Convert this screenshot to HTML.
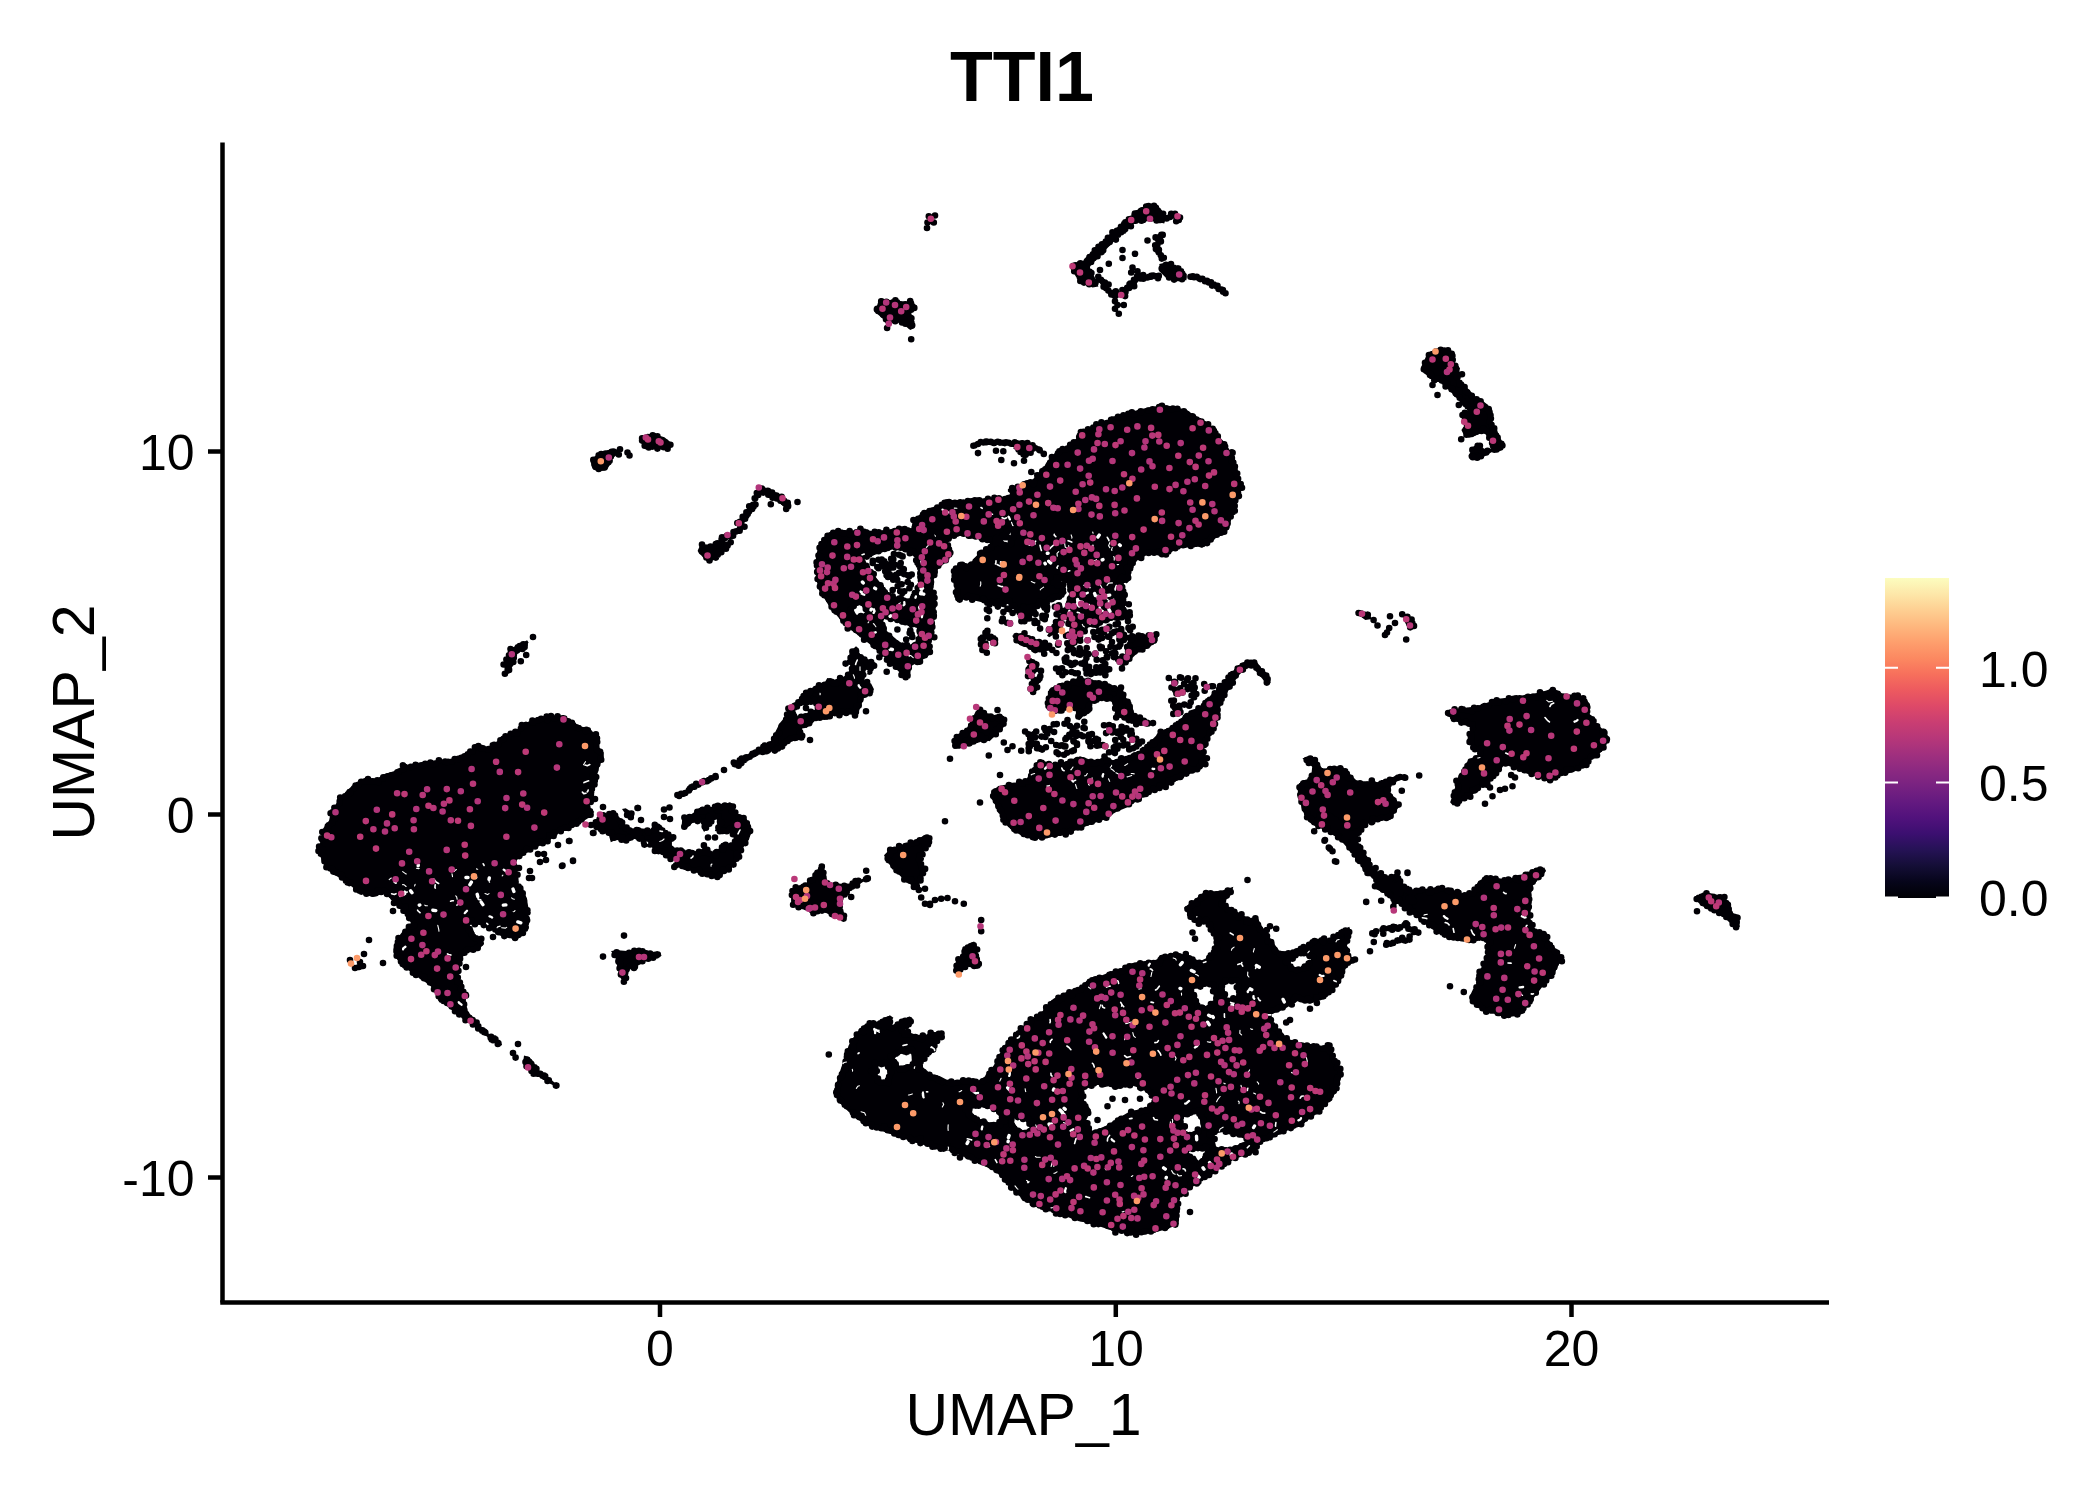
<!DOCTYPE html>
<html><head><meta charset="utf-8"><title>TTI1</title>
<style>
html,body{margin:0;padding:0;background:#fff;}
svg{display:block}
text{font-family:"Liberation Sans",sans-serif;fill:#000}
</style></head><body>
<svg width="2100" height="1500" viewBox="0 0 2100 1500">
<defs>
<linearGradient id="mg" x1="0" y1="1" x2="0" y2="0">
<stop offset="0" stop-color="#000004"/><stop offset="0.05" stop-color="#06051A"/><stop offset="0.10" stop-color="#140E36"/><stop offset="0.15" stop-color="#251255"/><stop offset="0.20" stop-color="#3B0F70"/><stop offset="0.25" stop-color="#51127C"/><stop offset="0.30" stop-color="#641A80"/><stop offset="0.35" stop-color="#782281"/><stop offset="0.40" stop-color="#8C2981"/><stop offset="0.45" stop-color="#A1307E"/><stop offset="0.50" stop-color="#B73779"/><stop offset="0.55" stop-color="#CA3E72"/><stop offset="0.60" stop-color="#DE4968"/><stop offset="0.65" stop-color="#ED5A5F"/><stop offset="0.70" stop-color="#F7705C"/><stop offset="0.75" stop-color="#FC8961"/><stop offset="0.80" stop-color="#FE9F6D"/><stop offset="0.85" stop-color="#FEB77E"/><stop offset="0.90" stop-color="#FECF92"/><stop offset="0.95" stop-color="#FDE7A9"/><stop offset="1" stop-color="#FCFDBF"/>
</linearGradient>
</defs>
<rect width="2100" height="1500" fill="#fff"/>
<path fill="#010005" fill-rule="evenodd" d="M887.7 326.6L891.6 321.7L892.6 321.3L903 323.9L910.2 329.9L914.7 328.1L912.6 322.7L911.3 312.4L917.1 306.2L913.2 302.4L889.9 299.9L880.5 298.3L878.6 300.6L875.1 312.1L883.4 319.2ZM659.7 447.6L667.4 448.8L672.2 446.8L670.3 442L664.4 437.3L657.2 434.9L647.6 433.7L641.2 435.9L641.2 443.3L645.6 447.7L652.5 450ZM1018.1 451.1L1022 456.3L1026.4 457.4L1035.8 449.5L1036.8 449.7L1040.5 453.5L1043.1 453.5L1042.2 449.9L1038 445.7L1029.2 443.2L1014.3 443.8L1013.4 448.7ZM610.1 464.5L612.7 455.7L619.8 450.8L619.2 448.9L612.8 449.9L596.8 454.8L592.3 458.2L591.2 462.5L592.3 468L597.8 471.3L606.8 470.1ZM758.7 486.8L757.7 488.8L758.5 490.5L775.6 499.5L785.4 508.2L788.2 508.7L790.7 507.1L791.3 505L790.4 502.6L779.3 494L768.3 489.1L760.4 486.5ZM1056.4 580.8L1056.3 579.4L1057.5 578.8L1068.8 583.1L1069.2 593.5L1065.2 604.3L1063.8 612.4L1059.7 620.5L1051.6 628.8L1047 635.7L1049.3 637.2L1056.6 632.4L1061.7 627.2L1067.1 619.2L1073.5 613.5L1079.9 620L1075.8 628.5L1073.4 635.5L1079.7 639.7L1088.7 627L1097 624.2L1118 618.9L1124.2 611.5L1125.5 603.9L1125.5 590.9L1120.2 579.7L1120.8 578.9L1121.9 578.9L1126.7 583.6L1130.8 579.5L1130.8 571.8L1135.3 557.7L1141.1 558.7L1146.6 554.8L1154.8 554.8L1161.2 556.1L1170.1 552.3L1178.6 546.8L1185.3 548.1L1194.7 545.5L1202.2 547.9L1204.7 544.3L1225.8 532.4L1229.5 527.5L1230.9 519.6L1234.8 512.9L1236.2 501.1L1240.2 491.6L1241.4 485.4L1238.8 476.3L1237.5 468.3L1234.8 460.3L1233.6 452.8L1228.4 450.1L1225.6 443.3L1220.4 438.1L1216.4 431.4L1211.2 426.3L1186.2 409.8L1166.6 405.2L1157.5 405.9L1146.9 407.8L1120.3 414.5L1112.5 417.1L1105.7 421.1L1097.8 423.1L1092.5 426.4L1084.6 429L1079.6 434.1L1075.4 439.6L1062 449L1056.7 450.4L1052.8 455.5L1047.6 460.7L1043.6 467.4L1038.2 472.8L1032.8 479.6L1027.1 482.4L1020.4 483.8L1015 486.5L1007.9 488.9L1007.9 491.4L1011.8 494.2L1012.1 496.8L1011.4 497.8L1007.3 496.2L965.1 499.9L952.7 499.9L935.5 506.1L920.7 513.5L913.5 520.6L911.3 527.3L912.2 529.3L911.2 530.2L902.6 526.6L884.1 530.5L873.3 531.2L862.6 529.2L853.4 530.5L844.1 529.9L833.7 531.8L827.4 534.3L821 542L817.2 551L815.2 562.7L815.9 577.2L818.5 588.9L829 605.9L842.2 621.9L848.8 628.4L863.4 639.1L878.1 651.1L904.6 677.6L907.6 678.6L910.2 675.5L911.1 665.9L926 657.7L932 652.8L930.8 643.9L933.5 635.8L933.5 626.5L936.1 605.3L934.8 594.9L932.1 586.5L934.9 575.6L939 567.4L947.1 561.8L952.1 554.4L950.9 547.2L946.6 541.5L947.8 540.2L950.5 541.4L950.1 537.5L950.6 536.5L965.3 533.8L968.2 538.8L980.3 538.8L989.9 543.6L990.5 544.5L990 545.7L983.4 549L975.6 556.8L970 565L969.1 565.2L961.5 562.7L954.4 567.4L951.9 577.3L954.5 585.2L954.5 595.7L957.9 601.3L966.8 598.8L996 605.4L1006.9 602.8L1014.1 609.7L1020.1 613.4L1035.5 608.2L1043.6 602.9L1053 601.5L1062 597.7L1066.7 593L1064.3 584.8ZM1012.2 531.3L1013.3 531.5L1013.8 532.6L1010.1 542.3L998.3 543.5L997.3 543L997.4 541.3L1004.4 539ZM937.9 535.2L937.9 536.6L936.9 537.1L929.1 536.2L928.1 535L929.1 533.8L935 533.8ZM864.2 560.3L864.8 558.9L874.3 554.9L886.3 550.9L895.7 548.8L908.7 552.3L917 559.4L919.9 570.5L918.5 581.6L914.3 592.6L908.1 599.9L899.7 597.2L891.4 595.7L876.4 578ZM886.9 631.1L882.8 620.3L883.7 618.8L908.4 624.2L917.9 628.3L918.5 629.2L917 640.7L906.7 646.5L896.6 639.6ZM858.9 617.2L857.7 616.7L852.1 607.9L852.8 606.9L860.1 604.1L861 604.7L865.2 612.2ZM730.5 543.3L720.1 541.2L710.2 544.9L700.7 543.8L697.6 551L703.3 557.8L710.1 561.2L716.9 559L726.6 549.2ZM516.4 654.6L524.1 649.1L528.6 642.5L527.1 640.3L513.1 647.3L508.5 650.7L503.7 665L505.8 673.3L509.2 671.6L513.9 664.5ZM750.1 757.6L758.4 753.5L769.1 752.2L774.2 750.9L782 745.7L790.1 741.6L798.1 740.2L803.9 734.4L801.5 728.3L801.8 727.2L802.8 726.8L806.4 728L811.2 724.4L816.9 718.9L825.1 720.1L835.7 714.8L841.2 716.1L846.6 713.5L856.7 715.9L858.9 711.5L864.3 696.7L871.2 693.7L874 689.3L871.1 683.6L864.8 681.1L864.1 679.9L865.7 674L872.4 671.1L875.8 663.1L872.8 661.1L857.9 655.6L857.5 654.5L858.7 648.5L856 646.2L851.8 650L850.4 656.4L847 663.3L849.8 664.2L850.5 665L849.2 671L844.8 676.2L833.4 679.9L827.3 678.1L823.3 685L809.9 688.4L802.3 694.1L799.4 700.9L792.6 703.1L787.8 707.3L786.4 715.2L779.7 723.3L775.8 731.1L772.8 739.5L764.7 746.3L753.9 751.7L732.7 764.6L733 766.4L735.9 767.4L742 764.3ZM813.3 702.8L814.5 703.7L815.9 709.2L815.5 710.2L807.1 713.1L799.1 717.1L797.8 716.8L794.8 709.7L795.2 708.5L803.6 704.2ZM979.7 738.8L989.6 741.2L1003.9 726.9L1006.1 718L999.8 713.8L989.6 716.1L979.9 708.9L975.9 710.9L966 730.7L955.8 735.9L952.5 740.3L953.6 748.8L959.7 748.8ZM622 808.9L624.9 813.2L630.4 818.7L633.7 818L632.9 812.7L625.7 808.3ZM670.9 844.5L671 843.3L674.5 838.9L672.1 834.9L665.2 830.9L661.2 825L656.3 823.4L650.2 829.2L640 828.2L631.7 829.2L623.2 822.9L619.1 816.8L611.8 811.4L603.5 815.1L593.4 820.6L595.1 827.3L600.6 831L608.9 835.2L610.8 842.3L616 839.8L625.9 841.8L633.9 838.8L640.4 840.9L644.5 847.4L650.5 844.9L654.8 851.9L660.4 852.9L668.5 856.9L673.1 861.4L673.9 855.5L674.7 854.8L675.7 855L676.2 856L675.3 866.1L695.4 871.9L710.3 877.3L717.6 877.8L731.1 868.2L741.9 852.5L743.9 843.5L749 839.3L751.8 830.9L750.4 824.5L746.2 818.9L743.5 817.1L738.1 815.8L734.9 809.5L733 803.9L729.9 802.3L724.2 804.2L716.3 804.7L710.4 807.6L702.3 809.2L694.6 812.1L688.6 816.1L682.2 818.8L681.7 825.6L684.3 828.9L689.3 826L693.5 821.9L701.4 821.9L702.2 822.8L702.7 829.6L704.1 831.9L709.9 825.4L712.1 818.2L713.1 817.8L716.4 818.9L717.2 819.9L717.2 826.1L714.8 831.1L724 832.8L730.4 831.9L736.1 837.4L735.9 838.8L730.7 844L724.4 842.4L720.9 846.8L714.3 852.2L707.4 850L704 846.7L700.6 850L694 853.2L689.9 849.2L686.1 852.2L680 849.8L677.9 850.3ZM917 888.4L921.4 879.5L924.9 870.1L921.3 862.6L923.9 852.1L931.3 842.1L931.3 837.2L924 835.1L918 839.9L890.6 848.5L884 855.2L887.3 861.8L893.4 869.2L903.3 879.1L913.1 886.5ZM482.5 924.9L490.6 929L498.5 934.9L515.9 939.7L521.2 937.1L526.8 929.5L528.8 910L526.8 898.3L523 888.7L516.8 882.3L518.7 874.1L514.8 866L517 859.4L525.4 853L549.3 841L557.4 833L569.5 828.9L577.4 825L589.2 817.1L594.3 812L589.1 806.8L588.8 805.8L592.8 797.6L594.8 783.7L599.9 764.6L603.8 757.7L603.8 752.5L597.9 746.4L598.7 738.4L589.4 728.1L577.5 726.1L572.3 722.9L566.4 717.1L556 715.2L544.2 717.2L532.4 720.1L522.7 724L516.7 730L506.6 734L500.7 739L488.3 747.1L478.3 745.3L466.5 753.1L450.3 759.2L426.2 761.2L414.3 764.2L402.4 766.1L394.5 771.1L384.5 774.1L376.3 779.2L366.2 777.3L358.6 781L350.8 786.9L342.9 794.8L331.1 810.5L329.1 820.4L323.1 828.5L318.3 851.8L325 867.3L334.7 875L344.7 881.1L354.7 889L364.4 894.9L373.9 896.8L384.6 892.9L407 915.4L411.1 923.5L411.1 924.5L402.9 930.9L400 934.7L395.1 942.5L393.3 949L396.1 957.4L400.9 964.2L410.7 972L430.8 986.1L435 993.3L442.8 1003.1L496.6 1043.9L501.4 1045.5L502.1 1044.3L491.2 1035.9L479.2 1024.9L468 1011.7L464.8 1002L467.1 996L464.9 990.5L459.2 980.2L458.8 971.9L461.2 959.8L465 953.3L479.4 948.9L484.1 943.8L481.1 938.8L475.1 934.8L473 928.9L469.3 926.9L468.9 925.6L470 924.8ZM805.6 908.9L812.7 914.9L822.7 911.3L833 916.4L842.3 919.9L846 917.1L841.3 907.6L844 896.8L851.8 889.1L870 877.5L867.7 877.5L855.4 881.1L842.7 886.2L829.8 883.7L828.9 883L823.8 872.8L824.8 864.4L820.8 866L815.9 873.3L805.8 883.4L791.2 888.4L791.2 906.5ZM955 971.7L959.7 973.6L967.1 966.4L977.1 968.7L981.1 964.7L974.2 941.5L968.4 943.5L963.5 953.1L956.2 960.5ZM619.2 965.8L619.2 975.5L624 980.3L626.9 977.4L629.4 969L637.5 965.9L645.6 960.9L661.8 955.5L657.6 951.3L649.9 952.2L638 949.2L630 951.2L618 950.2L611 951L615.1 957.5ZM548.6 1083L555.8 1086.5L557.3 1085.1L549.3 1078L541.2 1072.9L529.3 1057L524 1055.5L523.2 1061.9L525 1068.2L536.7 1075ZM1155.1 221.3L1164.2 223.6L1166.2 217.6L1161.6 209.7L1152.3 205L1140.5 207.4L1131.5 214.1L1132.3 215.6L1114.8 229.3L1084.1 259.1L1082.7 261.9L1077.9 261.3L1071.3 266.7L1072.4 270.8L1076 276.8L1083.2 284L1092.6 287.5L1098.4 286.5L1096.4 280.5L1089.4 266.9L1120 234.9L1135.7 222.4L1145 221.3ZM1186.8 274L1178.1 267L1167.4 262.3L1159.3 264L1160.1 272L1165.6 277.4L1176.4 279.8L1186.4 280.2ZM1453.9 363.1L1455 353.6L1447.2 348.7L1435.3 349.2L1427.2 353.4L1421.3 367.5L1423.5 373L1430.6 377.7L1437.9 381.4L1441.2 382.3L1466.7 407.9L1467.4 410.4L1463.8 416.4L1466.2 422.7L1461.4 430.1L1463.4 434L1470.1 436.3L1473.4 436.1L1477.1 435.1L1483.4 432L1484.8 432.6L1492 446.5L1491.9 447.7L1490.3 448.7L1482.9 449.9L1482 449.4L1479.4 444.4L1473.8 446L1468.5 455.9L1472.8 459.2L1482.6 457.6L1490.9 452.6L1495.6 451L1498.6 451.3L1500.7 450.6L1503.4 447.7L1503.7 444.4L1491.6 420.2L1493.2 414.9L1491.4 408.2L1482 399.9L1477 398.8L1475.1 396.1L1464.1 385L1457.2 377.1L1457.1 375.6L1458.9 374.3L1460 368ZM1369.2 613.5L1360 611.2L1355.4 612.8L1365.3 620L1371.9 619ZM1407 615L1402.7 615L1403.6 619.6L1407.3 626.9L1410.1 630.7L1414.8 626L1412.7 620.7ZM1020 633.7L1012 635.7L1018.3 644L1030.4 648.9L1042.5 652.5L1051 649.3L1049.1 643.4ZM1127.8 643.1L1124.1 648.1L1126.5 653.4L1122.5 660.4L1121.3 666.3L1122.7 667.6L1137.9 652.4L1144.6 648.3L1151.4 642.9L1157.5 641.1L1158.1 635.1L1155.6 632.6L1146.8 634.5L1136.2 634.5L1127.9 636.9ZM1045.9 703.9L1048.9 711L1056 713.4L1063.7 710.8L1075.2 708.3L1075.9 709.2L1075.9 714.4L1079 720.6L1089.6 710L1092.7 703L1102.5 700.1L1110.9 701.5L1111.7 702.1L1114.5 709L1115.7 716.4L1146.6 726.7L1152.4 723.8L1148.7 721L1133.8 712.8L1132.2 704.6L1127.1 699.4L1124.3 694L1119.3 687.7L1101 681.2L1090.4 679.8L1080 677.2L1072.5 679.8L1064.4 683.8L1053.9 686.4L1047.9 691.2L1047.8 697.6ZM1470.4 726.4L1471.2 727.8L1468.7 735L1471.1 744.4L1478.4 753L1478.7 754L1478.1 754.8L1470.8 758.4L1463.5 768.2L1456.2 780.4L1454.9 790.3L1450.1 802.3L1452.9 805.6L1460 802.7L1470.5 796.5L1481.7 786.6L1491.7 779.1L1499.1 771.7L1504.7 764.3L1530.4 775.1L1552.3 781.2L1562.1 775.1L1574.6 771.4L1586.7 765.3L1591.7 759.1L1601.6 751.7L1606.4 744.5L1608.7 736.5L1601.6 728.3L1594.1 720.8L1589 713.2L1590 704.1L1584.3 697.3L1574.8 694.9L1562.2 693.6L1554.7 688.8L1547.8 689.9L1540.2 692.4L1510.2 697.4L1497.8 698.7L1485.3 703.7L1470.3 707.4L1455.2 708.7L1446.6 710.8L1448.5 715.5L1460.5 723.9ZM1235.2 668.5L1224.2 681L1212 696.8L1205.7 698.6L1200.7 705.9L1190.6 711L1180.8 718.4L1173.2 726L1160.7 731L1140.8 750.9L1130.5 756.1L1115 761.2L1105 756.3L1095 761.2L1080 756.3L1067.8 761.2L1055.1 763.7L1038 761.3L1031 770.6L1025.6 781L998.1 786.1L990.2 795.2L1003.5 821.8L1010.8 829.1L1020.5 835.1L1032.7 838.8L1042.4 838.8L1067.2 833.8L1104.5 818.9L1117 811.4L1129.4 806.5L1141.9 796.4L1167 786.4L1179.5 778.9L1189.6 773.9L1201.7 769L1207.4 759.9L1203.8 749.7L1213.9 729.5L1218.8 717.3L1218.9 706.9L1231.1 686.1L1240 673.9L1248.4 667.3L1253.1 667.4L1266.6 684L1269 684.5L1270.7 682.8L1270.4 680.6L1257.3 662.6L1256.1 661.7L1246.5 660.6ZM1312.2 766.8L1311 778.2L1300.8 781L1297.5 787.7L1298.7 799.7L1303.6 812L1308.4 821.7L1315.4 826.3L1321.6 827.1L1340.6 840.2L1356.3 858L1367.1 872.4L1377.5 883L1374 886.4L1375.8 889.1L1385.6 894L1393.4 901.7L1393.7 902.7L1392.2 908.6L1396.7 904.1L1398.1 903.9L1405.7 909L1435.6 931.5L1445.4 936.4L1465.1 941.3L1474.9 941.3L1484.7 938.8L1485.8 939.1L1487.4 950.3L1483.6 962.9L1478.6 972.9L1476.1 985.4L1470.1 995.1L1473.5 1004.2L1480.6 1009L1490.3 1013.8L1500.1 1013.8L1510 1016.3L1519.4 1013.9L1529.1 1004.2L1544.2 984.2L1554 974.3L1559 964.3L1564.5 957.7L1559.1 953.3L1544.2 933.4L1534.1 928.3L1530.1 917.7L1531.3 902.5L1531.4 887.2L1546.1 871.1L1544.3 867.6L1537.9 868.7L1527.8 873.7L1517.9 874.9L1505.2 881.2L1494.8 877.5L1485.3 877.5L1478.4 880.9L1473.2 891L1462.7 893.7L1449.7 888.7L1437.5 887.5L1425.2 888.7L1414.5 891.1L1401.6 883.3L1399.1 873.8L1390.4 874.9L1385.4 877.4L1373 867.5L1353.9 836.3L1359.3 836.3L1361.5 831.8L1366.9 824L1387 818.9L1394.1 814.1L1398.7 807.3L1396.4 798.2L1389.2 793.4L1388.9 792.1L1391.8 784.1L1402 778.9L1405.9 777.6L1396.4 775L1390.5 778.6L1380.2 782.4L1367.4 781.2L1357.3 781.2L1342.1 766.3L1322.3 768.7L1316.6 759.6L1312.2 756.3L1302.4 758.2ZM1720.5 913.9L1735.3 928.1L1739.9 926.7L1738.9 920.5L1731.4 910.5L1729 900.8L1714.7 893.7L1702.8 892.5L1695.3 897.9L1697.2 901.7L1703.1 906.4L1710.5 908.9ZM1234.6 1158.9L1256.6 1151.6L1259.4 1144L1284.5 1131.4L1299.4 1126.4L1319.2 1111.6L1329.1 1101.7L1336.4 1091.9L1341.3 1077.4L1338.9 1065.4L1333.8 1055.3L1331.6 1044.1L1324.9 1046.2L1292 1041.1L1281.8 1033.5L1274.1 1025.8L1271.3 1014.8L1272.1 1013.9L1284.5 1008.9L1297.2 1001.3L1309.9 1003.8L1324.4 999L1334.1 989.2L1341.4 979.4L1346.5 966.8L1353.5 959.8L1348.9 952.9L1346.3 942.7L1351.2 932.4L1349.3 926.7L1340.6 931L1330.4 938.6L1315.4 938.7L1305.4 946.1L1290.3 951.2L1279.3 951L1261.5 925.6L1256.9 916.5L1249.6 918.6L1234.4 911L1224 903.2L1224.1 901.7L1231.4 894.4L1233.3 886.8L1220.1 891.2L1205.4 891.2L1184.1 907.8L1190.8 919L1205.9 924.2L1216.1 939.4L1210.7 955.9L1199.9 961.2L1184.8 953.7L1178.5 954.8L1170.2 953.7L1155.2 959.9L1142.7 961.2L1130.5 963.6L1122.9 968.6L1112.9 971.1L1090.6 979.8L1080.5 987.3L1070.4 989.9L1058.1 996L1050.9 1000.9L1045.9 1008.3L1038.3 1014.7L1030.7 1018.5L1006 1043.2L1001 1053.1L993.5 1065.7L985.9 1075.8L978.1 1081.1L965 1078.7L949.8 1081.2L939.6 1076.1L929.3 1073.5L921.6 1065.8L921.4 1064.7L926.7 1056.7L934 1051.7L936.5 1044.4L942.5 1037.1L942.5 1032.5L935.1 1032.5L919.6 1036.1L903.9 1030.5L904.2 1029.1L913.4 1022.2L909.6 1016.5L890 1026.2L889 1025.7L888.9 1024.5L893.4 1017.8L889.9 1015.2L880.4 1021.1L865.6 1023.6L856 1033.2L848.6 1045.5L838.6 1075.4L833.8 1092.4L838.5 1101.8L848.3 1111.6L860.7 1121.5L875.5 1128.9L935.3 1148.8L950.3 1151.3L965.5 1156.4L995.6 1171.5L1005.8 1181.7L1013.4 1191.6L1023.2 1199L1035.5 1206.4L1080.3 1221.3L1095.4 1225.1L1110.3 1230.1L1127.7 1233.8L1140 1235L1154.7 1232.6L1167.1 1228.9L1178.8 1224.2L1179.1 1198L1184.2 1194.1L1189.3 1189ZM1302.6 953.8L1310.8 959.1L1310.9 960.8L1297.7 968.7L1289 963.2L1289.3 961.5ZM1217 1148.6L1211.3 1135.3L1212.1 1133.9L1227.6 1131.3L1228.6 1131.9L1229 1134.1L1230.4 1133.9L1245.4 1138.9L1246.2 1139.7L1245.6 1141L1230.3 1148.7L1226.3 1147ZM1235.4 981.4L1236.2 982.3L1238.6 995.5L1237.8 996.2L1227 998.6L1226.3 997.7L1223.9 984.5ZM1193.8 989.8L1194.8 988.8L1207.3 986.3L1210.6 986.4L1216.1 1000.5L1205.4 1006.1L1204.3 1006L1203.2 1004.7L1199.5 1006.1L1195.4 994.9L1193.9 992.8L1194.3 991.6ZM1205.5 1148.9L1206.1 1150.4L1200.3 1161.2L1199.3 1161L1188.8 1152.8L1189.7 1151.3ZM1197.8 1111.3L1198.7 1112.3L1201.1 1128L1187.9 1133.6L1186.9 1133.6L1181.4 1117ZM1086.3 1119.8L1091.1 1110.1L1083.9 1100.4L1083.9 1089.6L1099.6 1083.9L1117.5 1088.7L1130.3 1085.1L1143.2 1089L1153.6 1099.7L1153.3 1100.8L1145.5 1108.6L1130.4 1111.1L1105.5 1126.1L1092.8 1131.2L1091.5 1130.6ZM1023.3 1119.2L1030.9 1126.7L1031.2 1127.8L1030.3 1128.7L1019.6 1131.1L1011.5 1118.1L1011.4 1117.1L1012.7 1116.3ZM989.6 1123.6L979.3 1118.5L969.2 1110.9L969 1109.3L985.1 1106.3L995.6 1111.5L1001 1119.3L1001.1 1120.5L1000.3 1121.2ZM912.3 1063L911.5 1063.7L899.6 1066.1L894 1056.8L893.9 1055.8L894.8 1055.1L910.4 1052.6L911.2 1053.6ZM885.5 1065.2L886.2 1066L888.6 1079.1L887.8 1079.9L879.6 1081.1L878.8 1080.2L876.4 1067.1L877.3 1066.3Z"/>
<g fill="none" stroke-linecap="round" stroke-width="6.6">
<path stroke="#010005" d="M478.3 1026.2h0M476.1 1023.9h0M476.6 1022.6h0M472.6 1020.1h0M469.3 1017.7h0M466.1 1014h0M464.2 1009.5h0M463.7 1010.4h0M464.1 1004.4h0M462.7 1001.8h0M462.7 998.8h0M466 995.4h0M465.7 994.8h0M463.3 991.8h0M460.8 988.9h0M461.3 986.7h0M459.9 982.5h0M457.4 981.8h0M457.8 977.5h0M458.4 970.9h0M456.5 969.8h0M456.9 966.9h0M459.4 963.5h0M459.8 957.7h0M460.1 958.7h0M461.9 953.3h0M464.5 952.7h0M466.5 950.4h0M468.1 949.6h0M473.2 949.7h0M477.1 947.2h0M477.7 947.9h0M480.5 943h0M479.5 939.8h0M481.3 938.7h0M476 938.4h0M473.2 936.9h0M471.4 934.1h0M469.1 930.2h0M469.6 929.1h0M466 925.6h0M467.3 923.4h0M471.7 920.6h0M474.7 923.6h0M474.9 924.2h0M482.2 922.4h0M483.8 925.1h0M486.4 923.6h0M489.2 928.2h0M493.6 927.7h0M495.3 929.5h0M499.6 931.3h0M498.2 932.1h0M501.6 932.4h0M504.3 936.1h0M509.5 934.9h0M514.8 936.9h0M515.1 937.9h0M518 934.9h0M522.9 932.9h0M523.3 930.2h0M525.7 927.3h0M525 928.8h0M525.9 923h0M527.1 920.3h0M526.7 918.7h0M527.5 912.4h0M525.1 910.6h0M527.4 910.4h0M524 900.4h0M523.9 901h0M521.9 893.9h0M522.7 893.2h0M520.3 888.4h0M518.6 886.5h0M517.4 886.6h0M514.2 882.2h0M515.3 879.2h0M515.6 882.1h0M517.5 874.7h0M514 872.3h0M514.4 870.5h0M514.1 865.8h0M512.5 861.3h0M513.4 860.3h0M515.1 857h0M519.3 856.1h0M520 854.3h0M523.2 852.7h0M526.5 849.6h0M526.8 849h0M530.2 849.5h0M535.1 846.4h0M535.2 844.4h0M540.9 841.6h0M542.7 843.3h0M547.6 841.3h0M549.3 835.4h0M553.6 836h0M554.3 833.4h0M554.9 832.3h0M560.1 830h0M560.8 831.3h0M565.1 827.8h0M568.5 828h0M571.7 825h0M572.5 823.8h0M578.2 821.7h0M576.5 823.7h0M581.6 819.4h0M584.4 816.6h0M590.6 814.8h0M587.3 815.1h0M589.9 813.5h0M590 811.2h0M587.4 807.8h0M586.6 802.3h0M590.7 801.9h0M589.8 796.3h0M590.9 794.6h0M591.1 792.3h0M591.9 789h0M593.4 784.2h0M593.2 781.1h0M594.8 780.8h0M592.9 775.6h0M596.2 777.1h0M595.3 769.8h0M597.3 764.2h0M597 764.2h0M601.2 759.8h0M600.5 758.5h0M600.1 751.9h0M599.4 751.5h0M597.2 750h0M596.3 746.3h0M596.2 742.5h0M597.2 742.1h0M597 738.2h0M594.2 736.2h0M595.9 734.3h0M587.8 730.4h0M585.8 730.9h0M586.4 729.9h0M578.6 728h0M576.4 727.2h0M573.1 725.1h0M571.9 722.7h0M568.1 721.4h0M565.9 721.9h0M564.2 718.5h0M562.6 718.2h0M557.6 716.4h0M554.5 718.8h0M551 716.1h0M546.7 716.5h0M547.4 720.1h0M541.1 718.9h0M539.5 719.7h0M538.1 720.1h0M532.4 720.6h0M533 722.7h0M526.2 725.1h0M525.7 725h0M521.8 725.1h0M520.9 728.6h0M517 733.6h0M515.4 731.8h0M510.7 733.8h0M508.6 736.7h0M505.5 736.3h0M503.5 738.9h0M500.4 740.3h0M498.1 744.8h0M494.1 744.9h0M492.8 745.4h0M488.2 749.7h0M488.6 749.1h0M482.9 748.3h0M480.8 747.9h0M478.4 746.1h0M474.9 747.3h0M472.4 751.6h0M470.3 751.6h0M467.8 754.4h0M464.6 756.3h0M461.4 757.7h0M458.4 758.9h0M454.7 759.1h0M451.8 761.7h0M446.8 762.1h0M448 761.8h0M445.1 761.6h0M438.9 760.3h0M435.2 763.8h0M433.2 764.7h0M430.4 762.6h0M425.2 763.9h0M422.7 765.5h0M421.8 765.3h0M419.3 765.9h0M415.5 764.9h0M410.8 766.9h0M405.1 767.1h0M402.9 765.3h0M403.6 769h0M398.6 771.9h0M397.4 772.3h0M395.4 775h0M391.5 775.2h0M387.9 776.3h0M383.3 777.2h0M383 778.5h0M377.3 780.2h0M378.5 782.1h0M372.8 781.4h0M368.1 781.4h0M368 779.1h0M364.4 781.7h0M361.2 781.8h0M358.5 784.7h0M355.6 785.6h0M354.4 788.1h0M349.6 792h0M350.1 793.1h0M348 794.3h0M345.1 796.3h0M340.2 797.5h0M339.7 801.2h0M339.7 803.1h0M334.4 807.7h0M336.2 809.1h0M332.4 812.3h0M330.6 813.2h0M334.9 818.7h0M332.1 823h0M328.7 825.4h0M327.8 826.3h0M327.9 829h0M322.3 832h0M324.1 837.7h0M321.4 838.2h0M322.4 839.8h0M319.1 846.6h0M322.8 849.4h0M318.5 851h0M320.9 853.7h0M324 856.3h0M324.4 860.1h0M324.5 861.2h0M326.4 867.3h0M330.5 868.5h0M332.3 869h0M333.3 871.6h0M336.5 872.4h0M341.8 875.1h0M342 877.4h0M346 880.7h0M347.7 882.5h0M350.7 882.5h0M349.3 883.1h0M357.1 888.2h0M356.2 889.5h0M359.7 890.7h0M361.3 891.6h0M366.4 893.7h0M372.5 893.7h0M371.4 893.2h0M375.6 893.2h0M378 890.4h0M381.2 892h0M384.1 890.8h0M387.8 893.1h0M387 893.9h0M391.5 894.9h0M393.6 897.4h0M395 900.5h0M398.1 902.6h0M399.6 905.8h0M405.7 906.8h0M403.5 910.7h0M408 913.9h0M407.8 914h0M409.2 918.1h0M411.4 917.7h0M414.2 925.4h0M411.8 926.4h0M408.9 926.9h0M408 931.2h0M405.4 931.7h0M406.2 934.8h0M399.7 939.3h0M398.5 938h0M397.9 942.1h0M396.9 946.1h0M396.5 951.4h0M397.2 953.5h0M396.7 955.7h0M400.3 957.9h0M401 961.4h0M402.7 964h0M405 965.4h0M406.7 967.4h0M412.9 972.8h0M413.9 972.8h0M416 974.9h0M418.9 974.3h0M422.3 976.6h0M424 978.2h0M424.6 977.1h0M430 982.5h0M432.8 983.5h0M434 989.2h0M436.7 988.9h0M437.8 991.2h0M438.7 996.2h0M441.1 998.8h0M441.8 999.8h0M443.6 1000.9h0M447.1 1003h0M451.7 1006.4h0M455.1 1009.3h0M455 1011.3h0M459.3 1013.2h0M459.3 1014.5h0M464.4 1015.9h0M465.7 1017h0M465.5 1020.3h0M472.8 1021.8h0M474.2 1022.6h0M472.9 1024.4h0M478.2 1028.4h0M482.2 1030.2h0M482.4 1030.5h0M484.8 1032.3h0M482.4 1030.3h0M483.6 1031.5h0M484.4 1032.2h0M483.3 1031.1h0M483.4 1031.5h0M482.2 1030.7h0M484.4 1032.1h0M484.5 1032.1h0M485.3 1032.6h0M484.4 1032.3h0M484.6 1032.1h0M484.5 1031.9h0M483.5 1031.5h0M491.7 1039.4h0M491.1 1036.9h0M491.7 1038.7h0M498.4 1043.3h0M493 1040.3h0M490.7 1037.7h0M497.8 1042.9h0M497.8 1044h0M491.5 1038.5h0M495.4 1039.3h0M493.9 1038.3h0M525.5 1062h0M527.3 1064.3h0M526.5 1066.2h0M531.3 1069.2h0M531.5 1071h0M533.6 1073.8h0M537.5 1073.7h0M544.4 1076.5h0M544.9 1077h0M544.1 1075.6h0M548.8 1080.4h0M547.5 1081h0M545.2 1076.3h0M542.6 1075.7h0M540.3 1073.7h0M536.4 1068.7h0M534.5 1067.3h0M530.9 1063.6h0M531.4 1064.3h0M529.2 1061.8h0M527.1 1059.7h0M555.9 1085.6h0M556.4 1085.6h0M518 1044h0M513 1053h0M515.6 1057.6h0M558 845h0M569 841h0M573 861h0M562 866h0M540 862h0M546 860h0M538 854h0M544 854h0M530 871h0M529 878h0M532 878h0M519 868h0M393 911h0M394 903h0M493 937h0M466 967h0M594 784h0M593 833h0M603 807h0M638 808h0M364 954h0M359 967h0M363 966h0M355 968h0M350 960h0M360 962h0M369 940h0M383 963h0M614.6 955h0M618.4 961.2h0M620 959.8h0M618.6 961.7h0M620.2 964.4h0M619.6 968.2h0M621.4 971.7h0M620.9 974.6h0M626 978h0M623.7 976.6h0M625.1 973.3h0M626.7 969.2h0M629.9 966.1h0M634.2 963.9h0M634.9 966.8h0M639.8 961h0M642.4 961.3h0M646.6 957.8h0M648.2 958.7h0M653.1 957.7h0M650.5 954.8h0M657.8 954.6h0M656.3 955.5h0M652.4 955.6h0M650.1 953.6h0M646.1 953.2h0M645 953.7h0M642.5 951.3h0M639 950.7h0M634.3 950.8h0M632.6 952.9h0M629.1 952.9h0M626 955.2h0M623.9 954.3h0M618 954.8h0M616.6 952.2h0M623.9 981.8h0M624 935.6h0M603 956.6h0M634 968h0M666.7 844.6h0M668.7 843.9h0M671.8 838.5h0M673.2 837.3h0M668.3 834.6h0M665.4 833.1h0M662.8 834.2h0M662.3 830.5h0M657.2 826.6h0M654.8 824.9h0M655 829.1h0M654.3 829.9h0M647.4 830.6h0M648.5 832.7h0M639.8 832.5h0M638.2 830.3h0M636.7 830.1h0M632.6 831.6h0M629.3 830.2h0M626.6 827.6h0M625.5 828.2h0M622.1 825.8h0M622.1 822.6h0M620.2 821.3h0M615.1 815.6h0M614.8 816.5h0M613.1 813.4h0M609.3 814.1h0M603.2 815.3h0M602.5 818.4h0M599.7 819h0M595.8 822.2h0M595.3 824.4h0M596.7 827.1h0M601.3 828.7h0M601 829.2h0M602.6 831.2h0M608.8 832.7h0M611.8 832.5h0M614.2 837.8h0M613.2 837.2h0M618.7 836.9h0M621.6 839.7h0M622.6 837.2h0M626.2 840.4h0M629 837.9h0M630.8 837.5h0M635.2 835.6h0M639.4 838.6h0M641.5 838.6h0M644 842.6h0M644.4 844.6h0M647.4 842.5h0M650 844.5h0M653.7 843.5h0M654.9 850.9h0M658.5 851.1h0M657.4 850.2h0M663 852h0M666.4 852.5h0M666.1 855.2h0M670.6 859h0M670.6 854.8h0M674.5 853.5h0M676.9 857.5h0M677.6 856.5h0M678.3 862.1h0M676.1 865.2h0M678.9 863.2h0M682.2 866h0M684.6 866.6h0M686.8 866.3h0M688 868h0M693.9 870.4h0M699.2 869.8h0M700.9 872.5h0M702.3 873.7h0M707.2 874.3h0M709.7 874.4h0M711.7 876h0M717.4 876.9h0M719.7 875h0M724 871h0M722.7 869.7h0M728.8 869.5h0M728.8 868h0M733.5 864.6h0M733.5 864.5h0M736.5 858.7h0M736.7 853.7h0M739.1 856.8h0M741 850.2h0M740.8 845.3h0M738.1 846.2h0M745.3 843.1h0M745.8 838.2h0M744.7 840h0M746.9 834.5h0M750.1 831.1h0M748 827.2h0M746.8 823.2h0M745.6 824.4h0M744.2 821.5h0M743.6 818h0M738.7 820h0M739.1 817.3h0M735.3 812.5h0M731.5 810.8h0M732.9 806.5h0M729.5 806.1h0M728 806.4h0M724.9 805.6h0M721.5 807h0M717.9 805.8h0M715 806.9h0M710.2 810h0M707.4 807.8h0M704.3 811.3h0M702.6 809.9h0M700.7 811h0M697.3 811.7h0M695.9 815.6h0M689.5 817h0M686.9 819h0M685.5 819.3h0M684.4 817.5h0M684.3 826.7h0M685.3 824.9h0M687.8 823.3h0M692.7 819.7h0M696 818.9h0M697.6 821.1h0M698.4 819.5h0M706 822.2h0M704 821.9h0M704.7 826.5h0M706 827.7h0M709.3 823.8h0M711.3 821.4h0M708.5 816.8h0M712.1 814.3h0M714.5 816.8h0M718.7 816.2h0M720 821.8h0M721.8 822.9h0M718.4 827.6h0M719.8 831.3h0M722.8 831h0M722.7 830.4h0M726.8 831.2h0M729.8 829.1h0M732.9 834.3h0M735.2 834.6h0M736.8 837.3h0M736.9 841.3h0M735 841.6h0M731.8 845.3h0M732.8 847h0M725.6 844.8h0M723.6 845.8h0M722 847.3h0M723.1 849.6h0M716.6 852.1h0M716 855.7h0M715.4 853h0M709 853.2h0M704.8 852.5h0M707.3 849.7h0M699 851.9h0M699.6 853.1h0M694.9 854.2h0M692.1 853h0M688.9 852.3h0M685.8 855.2h0M686.2 855.5h0M682.8 852.4h0M680.8 850.5h0M675.2 851.1h0M677.1 850.5h0M670.9 849.3h0M627.1 815h0M628.6 814.8h0M630.8 817.2h0M631.4 813.6h0M628.5 814.2h0M703.9 845.4h0M674.3 867h0M603 807h0M637.5 808h0M641 820h0M664 809.5h0M669.5 807.5h0M664 817h0M670 819h0M593.5 833h0M569.5 841h0M573 860.5h0M562.5 865.5h0M594.5 784.5h0M595 799h0M591 825h0M708 837.5h0M715 837.5h0M677.4 795.1h0M679.1 796h0M681.1 793.8h0M685.2 793h0M683.4 793.8h0M688.9 790.4h0M689.9 788.7h0M691.3 787.2h0M694.4 786.8h0M692.9 786.6h0M696.2 783.9h0M698.4 784.6h0M702.3 782.3h0M703.1 781.7h0M704 781.1h0M707 781.2h0M708.8 780.1h0M711.2 778.4h0M715.7 777h0M715.5 776.1h0M724 770h0M733.8 762.5h0M734.5 764.1h0M739.2 764.4h0M739.8 760.2h0M741.7 758.6h0M744.2 759.9h0M746.4 757.3h0M745.8 757.5h0M749.7 756.7h0M752.3 754.8h0M752.5 753.8h0M754.2 753.9h0M755.6 752.6h0M757.9 751.7h0M758.9 749.8h0M761.9 750.9h0M763.4 746.7h0M764.8 745.6h0M739.3 763.5h0M738.6 765.8h0M741.4 763h0M740.5 763.4h0M738.5 764.2h0M762.9 751.1h0M762.6 751.9h0M766.5 751.2h0M767.8 750.6h0M774.8 750.6h0M777.9 748.4h0M782 746.6h0M782.4 745.6h0M784.3 743h0M787.6 740.9h0M790.8 738.6h0M794.8 737.9h0M796.2 737.6h0M801.4 737.4h0M802.2 735.7h0M800.1 732.4h0M799.2 727.4h0M800.9 723.5h0M803.7 725h0M809.2 723.3h0M808.1 720h0M814.6 717.7h0M815.9 718h0M819.8 717.8h0M821.2 716.3h0M824.2 716.3h0M829.8 716.2h0M827 716.6h0M831.3 713h0M834.8 713.1h0M839.4 715.3h0M841.7 711.9h0M841.6 711.9h0M846.2 712.9h0M848.4 711.6h0M855 715.4h0M855.9 711.9h0M855.6 710.6h0M858.7 705.5h0M856.8 706.1h0M860.4 699.6h0M861 694.2h0M864.2 694.7h0M865 694.6h0M869.6 693.3h0M870.2 691.3h0M867.8 686.5h0M867.1 682.1h0M864.6 683.4h0M860.6 681.2h0M861.2 678.2h0M863.3 674.8h0M864.8 671h0M865.1 671.3h0M869.4 671.6h0M870.7 668.2h0M874.1 665.7h0M867.2 663.1h0M871.1 662h0M864.4 659.5h0M859.7 660.2h0M860.6 657.4h0M855.2 657.2h0M857 655.4h0M856.1 651.3h0M852.4 651.5h0M852.6 654.2h0M854.8 655.7h0M850.6 657.9h0M850.2 661.7h0M853.4 664.7h0M853 668h0M852 668.8h0M848.1 674.9h0M849.1 676.2h0M847.2 678.3h0M842.5 680.4h0M840.1 678h0M837.1 683.1h0M833.8 683.4h0M831.6 681.8h0M830.1 681.4h0M824.7 685h0M824.6 684.8h0M819 685.3h0M817.3 688.3h0M815.7 689.1h0M810.5 691.1h0M809.7 693h0M806.1 692.7h0M803.6 696.1h0M802.1 698.9h0M800.2 703h0M798.4 702.3h0M796.7 705.3h0M794.4 707.3h0M790.4 709.5h0M788.4 708.6h0M787.1 714.6h0M788.1 715.9h0M787.7 719.3h0M786.2 719.6h0M781.6 726.4h0M781.9 726.3h0M778.8 733.4h0M779.1 733.1h0M776.2 735.3h0M774.1 738.9h0M775.7 741.1h0M771.4 744.2h0M769.7 744.5h0M767.9 749.2h0M765.1 746.5h0M761.5 750.4h0M807.2 702h0M807.2 699.6h0M810.9 701.7h0M814.6 700.1h0M816.4 703.6h0M817.9 707.8h0M818.1 712h0M815.8 712.8h0M811.4 714h0M810.9 711.7h0M805.6 716.4h0M807.2 716.8h0M801.2 716.9h0M799.8 719h0M794.3 716.9h0M793.1 716.6h0M790.7 708.8h0M794.3 707.5h0M795.8 706.5h0M796.9 706.5h0M804.4 702.2h0M756.2 752.4h0M748 757.2h0M747.2 757.6h0M752 754.8h0M753.5 754.1h0M753.6 754h0M753.1 754.2h0M745.9 758.5h0M755.7 753h0M754.5 753.6h0M754 753.6h0M845.6 663.6h0M810 740h0M866 711.3h0M886.7 671.7h0M879.3 657.3h0M724 770h0M806 708h0M853.3 670.7h0M869.3 666.7h0M948.7 538.6h0M952.3 533.8h0M954 535.7h0M957.2 533.6h0M963.5 533.7h0M960.9 532.7h0M964.6 531.9h0M968.8 535.7h0M970.6 534.5h0M975.7 536.5h0M976.2 535.8h0M978.4 535.6h0M981.5 537.9h0M982.5 539.3h0M987.4 540h0M989.2 539.3h0M991.5 547.7h0M990.7 547.1h0M987.3 549.7h0M986.2 549.3h0M981.5 552.9h0M980.1 553.5h0M980.3 556.3h0M976.6 560.5h0M975.6 561.5h0M971.6 564.5h0M970.7 565.3h0M966.4 568h0M965.4 566.4h0M962.2 564.8h0M960.3 565.1h0M956 568.6h0M954 571.2h0M955.2 574.8h0M954.7 575.9h0M954.2 579.8h0M956.7 583.1h0M956.8 585.1h0M957.4 591.7h0M956 592.3h0M957.4 595.5h0M959.7 599.6h0M958.3 598.3h0M966.3 597.5h0M968.7 596h0M972.9 596.8h0M972.2 599.8h0M976.2 597.2h0M983.5 598.7h0M984.4 600.2h0M987.3 602.8h0M989.5 604.5h0M991.6 602.1h0M995.6 603.6h0M998 601.7h0M1003.5 603.9h0M1006.9 600.8h0M1009.5 601.1h0M1011.7 605.9h0M1014.3 606.1h0M1017.6 610.4h0M1019.7 612.6h0M1019.8 610.7h0M1023.5 608.2h0M1028.4 608.5h0M1028.6 608.1h0M1033 606.6h0M1037.4 605.9h0M1039.6 601.5h0M1041.8 602.6h0M1046.1 602.5h0M1049.9 599.2h0M1051.9 599.1h0M1052.3 597.5h0M1055.4 596.9h0M1059.1 596.7h0M1062.3 592.8h0M1061.4 594.8h0M1062.9 589.5h0M1063.3 584.4h0M1057.4 585.5h0M1057.9 582.5h0M1053.7 582.7h0M1056.3 577.5h0M1057.4 578.1h0M1059.9 578.2h0M1062.7 578.5h0M1066.1 579.7h0M1069.4 579.8h0M1070.1 583.8h0M1070.3 586.5h0M1070.4 589.8h0M1071.7 591.3h0M1070 598.7h0M1070.8 598.5h0M1069.2 603.8h0M1069.2 605.4h0M1066.1 610.3h0M1065.8 614h0M1067.2 616.8h0M1060.7 616.9h0M1062.6 619.8h0M1059.8 621.9h0M1054.5 626.9h0M1056.5 627.2h0M1053 631.6h0M1053 630.9h0M1054.7 632.8h0M1052.7 629.8h0M1059.6 628.1h0M1059.3 629.4h0M1059.9 623.7h0M1060.7 622.2h0M1067.6 617.7h0M1068.1 616.7h0M1067.2 616.1h0M1074.6 611.7h0M1073.3 612h0M1077.8 612.7h0M1078 613.7h0M1082.5 618.5h0M1083 621.3h0M1077.6 624.7h0M1079.5 624.8h0M1078.9 630.4h0M1075.7 634.9h0M1077.2 634.7h0M1079.9 636.5h0M1080 636.8h0M1084.7 631.2h0M1082.8 629.1h0M1088.7 623h0M1089.3 623.9h0M1093.4 624.4h0M1094.5 621h0M1097.5 623.1h0M1103.5 618.8h0M1105.8 620.3h0M1106.7 619.8h0M1110.7 617.7h0M1116.6 617.7h0M1119 617.4h0M1120.2 615.4h0M1123.4 609.9h0M1121.6 611.2h0M1123.7 603h0M1122.9 601.8h0M1123.1 599.3h0M1124.7 594.9h0M1122.4 595.1h0M1123.2 591.3h0M1122.2 587h0M1120.7 584.4h0M1119.1 581h0M1120.5 579h0M1122 577h0M1124.8 579.8h0M1126.6 577.9h0M1128.2 577.8h0M1127.1 577h0M1128.3 572h0M1130.6 566.3h0M1130.1 568.5h0M1132.7 563.1h0M1134.2 558.9h0M1134.4 556.6h0M1137.6 556.9h0M1139.9 556.5h0M1141.2 557.9h0M1142.6 553.6h0M1148.1 552.8h0M1148.6 553h0M1154.1 552.7h0M1158.4 551.7h0M1159.6 552.2h0M1162 554.2h0M1166 554.5h0M1168.3 551.5h0M1169.7 549.6h0M1175.3 548.2h0M1177.7 546.4h0M1178.1 545.1h0M1183.1 545.2h0M1184.3 543.3h0M1190.8 545.9h0M1192.8 544.5h0M1196.3 543.7h0M1197 543.5h0M1202.6 544h0M1205.4 542.1h0M1207.1 543.1h0M1210.7 539.4h0M1211.8 537.2h0M1212.3 536.8h0M1216.8 534.7h0M1221 532.7h0M1221.3 532h0M1224.2 531.7h0M1226.3 527.2h0M1227.6 523.6h0M1227.9 519.6h0M1230.7 516.4h0M1231.2 513.2h0M1232.9 512.1h0M1234.8 510.8h0M1234.7 505.9h0M1233.9 507.1h0M1235.3 500.6h0M1238.9 496.1h0M1237.9 495.9h0M1238 492.6h0M1242 487.8h0M1240.7 484h0M1236.9 480.4h0M1238.1 478.9h0M1236 473.7h0M1237.2 473.6h0M1234.2 470h0M1234.9 466.5h0M1233.3 462.6h0M1231.6 460.9h0M1231.9 458.1h0M1231.8 452.2h0M1232.6 452.7h0M1226 450.5h0M1225.1 446.6h0M1224.2 444.2h0M1217.5 442.1h0M1217.8 440.5h0M1217.8 436.4h0M1215.4 433.2h0M1213.9 430.7h0M1212.7 428.8h0M1210.2 429.9h0M1208.1 424.3h0M1203.3 423.9h0M1201.4 421.6h0M1198.4 420.7h0M1196.5 419.6h0M1193 416.8h0M1192.4 416.4h0M1186.9 414.1h0M1186 413.5h0M1183.9 411.4h0M1177.4 408.8h0M1171.6 409.6h0M1172.9 408.5h0M1170.7 409.4h0M1166.1 408.5h0M1162.1 408h0M1162 405.9h0M1159.1 407h0M1152.5 409.3h0M1152.4 409.9h0M1148.3 410.5h0M1140.8 411.4h0M1140.9 412.3h0M1140.1 412.4h0M1134.1 414.7h0M1131.9 412.4h0M1128.3 413.7h0M1123.4 415.4h0M1123.2 417.8h0M1117.7 417.8h0M1118 416.8h0M1112.6 419.5h0M1111.1 419.8h0M1106.9 423.1h0M1106.3 423.7h0M1101.4 422.3h0M1099.1 426.3h0M1096.3 424.4h0M1093.3 427.5h0M1089.8 430.4h0M1088 429.2h0M1083.5 431.8h0M1080.9 432h0M1079.9 435.6h0M1079.2 437.1h0M1076.2 442.5h0M1073.9 442.4h0M1070.2 444.9h0M1067.5 448.5h0M1065.6 449.5h0M1062.6 449.1h0M1059.4 451.4h0M1058 453.3h0M1051.9 457.1h0M1052.6 457.2h0M1052.2 461.6h0M1050.2 462.9h0M1048.9 465.2h0M1045.3 469.2h0M1043.4 470.8h0M1042.3 471.4h0M1037.3 475.2h0M1037.8 477h0M1034.1 482.6h0M1033.4 484.3h0M1030.5 482.2h0M1027.2 483.2h0M1024.2 484.4h0M1021.6 488.9h0M1017.8 486.9h0M1015.7 488.6h0M1012.2 488h0M1013 492.5h0M1013 492.3h0M1012.1 498.8h0M1013.8 495.8h0M1011.3 497.2h0M1008.4 498h0M1005.2 499h0M998.9 498.2h0M995.8 500.4h0M994.4 497.9h0M988 498.7h0M988.8 502.6h0M985.8 501.2h0M979.3 500.4h0M977.1 500.8h0M974.8 500.2h0M971.4 501.2h0M967.8 501.1h0M962.9 502.8h0M963.3 502.6h0M960.2 502.3h0M954.9 502.9h0M952.6 503.5h0M949.1 502h0M947.1 502.4h0M944.6 502.8h0M941.8 504.8h0M937.3 507.6h0M935.9 509.6h0M932.3 510.5h0M929.4 511.1h0M924.3 513.1h0M923.1 514.6h0M920.9 518.2h0M918.2 518.7h0M915.2 521.6h0M913.4 520h0M915.6 524.2h0M913.4 530.9h0M911.7 532h0M908.4 530.9h0M907.4 530.4h0M904.7 529h0M899.1 528.8h0M899.6 529.2h0M895 531.1h0M889.9 533.4h0M886.4 529.7h0M883.8 533.3h0M879.4 533h0M878.8 532.4h0M874.7 531.9h0M870.6 534.2h0M866.1 532.4h0M864.2 531.9h0M860.2 531.2h0M860.4 528.8h0M856.5 532.2h0M854.7 533.8h0M849.6 531.1h0M850.1 534.8h0M843.6 533.4h0M841.1 532.5h0M838.2 531.1h0M833.2 532.9h0M831 535.1h0M827.6 535.8h0M824.3 540h0M824.4 541.6h0M823.1 545.7h0M821.5 544.1h0M819.6 547.8h0M818.5 555.6h0M820.9 556.7h0M816.6 562.4h0M817.5 563.6h0M817 565.5h0M817.2 571.9h0M817.6 571.9h0M819.5 577.1h0M817.6 579h0M818.2 578.8h0M819.9 586.5h0M820.6 586.7h0M822.5 590.4h0M822.3 593.6h0M824.4 595.3h0M829 599.6h0M831.2 602.4h0M831.6 606.7h0M833.4 608h0M834.6 610.2h0M836.1 611.6h0M837.8 612h0M842.3 616.7h0M843.2 619.3h0M843.4 620.8h0M845.7 623h0M848.7 626.3h0M847.7 628.4h0M856.1 629.9h0M858.8 630.2h0M860.2 632.7h0M862 634.5h0M865.1 636.8h0M864.1 639.7h0M869.7 639.6h0M873.6 644.9h0M875 646h0M878.9 647.9h0M879.7 650.7h0M881.8 650.1h0M882.4 653.6h0M888.3 655.8h0M888.5 660.2h0M887 659.7h0M890 663.8h0M895.9 666.7h0M897.6 666.6h0M901.5 674.9h0M903.6 672.8h0M905.7 677.2h0M907.5 675.7h0M906.3 672.6h0M908.8 667.7h0M908.4 666.1h0M909 664.5h0M912.3 661.3h0M917.4 661.9h0M920 661.6h0M920.5 657.1h0M922.4 655.4h0M924.8 655.2h0M929.9 651.9h0M927.2 647.8h0M929.6 646.5h0M928.5 641.1h0M928.2 639.9h0M934.3 637.2h0M931.3 632.4h0M930.8 631h0M932.3 626.9h0M931.8 623.3h0M931.1 621.5h0M933.7 616.8h0M933.8 615.6h0M933.7 612.3h0M933.7 604.7h0M934.5 603.9h0M931.9 600.7h0M934.5 597.8h0M933 598.5h0M933.6 592.7h0M930.5 586.6h0M930.8 584h0M931 582.1h0M929.8 579.1h0M934.3 574.9h0M933.8 572.3h0M934.7 572h0M934.1 564.8h0M938.3 565.8h0M939.1 564.1h0M945.8 560.3h0M946.1 558.6h0M947.1 555.3h0M949.2 554.5h0M950.3 552.7h0M949 549.4h0M947.9 545.3h0M945.4 548h0M945.1 542.7h0M944.6 538.4h0M1010.7 528.5h0M1015.5 529.9h0M1013.8 533.7h0M1013 537.5h0M1013.1 537.5h0M1011.6 542.2h0M1011 544.1h0M1010.9 542.4h0M1004.7 545.1h0M1001.3 543.8h0M996.1 542.9h0M996.2 538h0M996.2 540.2h0M1000.3 539.1h0M1004.9 537.2h0M1002.9 535.2h0M1007.5 537.3h0M1006.7 531.8h0M938.9 534.5h0M935.9 540h0M936.6 540.9h0M931.7 537.2h0M931.2 540.2h0M928.7 540.2h0M927.8 534.5h0M927.1 532.7h0M929.8 531.5h0M932.6 531.8h0M937.5 532.4h0M866.9 567.6h0M866.2 565.9h0M862.7 562.6h0M862.7 557h0M861.3 557.7h0M866.8 556.6h0M869.3 554.5h0M872.2 552.3h0M878.5 551.3h0M877.8 550.6h0M879.9 548.7h0M884.6 548.9h0M887.6 547.4h0M887.6 548h0M894.1 544.9h0M895.6 547.6h0M900.6 547.8h0M902.7 547.2h0M905.4 549.2h0M909.6 550.4h0M909.8 553.3h0M913.6 551.7h0M916.2 560.3h0M918 560.1h0M917.5 562.8h0M919 565h0M920.3 568.1h0M920.3 573.4h0M920.4 577h0M922.7 577.5h0M920.9 580.2h0M919.6 586.2h0M917.7 588h0M917.7 591.9h0M914.9 593.1h0M913.8 596.3h0M913 598.2h0M910.3 602.7h0M908.1 601.6h0M904.2 600.8h0M901 598.6h0M899.3 598.5h0M892.7 596.4h0M888.6 598.3h0M888.4 595.3h0M884.7 594h0M884.7 592.3h0M882.6 589.9h0M880.8 586.7h0M880.4 585.2h0M874.5 581.8h0M873.3 579.7h0M873.7 574h0M870.1 573.4h0M870.5 572.1h0M882.8 629.4h0M883.7 628.6h0M882.7 626.3h0M882.3 624.8h0M881 618.3h0M881.4 617.2h0M886.5 616.3h0M890.7 619h0M890.7 617h0M897.4 620h0M896.5 617.3h0M902.1 621.6h0M905.4 622.3h0M909.8 623h0M912.2 623.7h0M911.6 624.4h0M916.2 624.3h0M920.1 628h0M919.6 631.1h0M919.9 632.1h0M920.8 637.9h0M920.3 640.1h0M918.8 639.3h0M916.1 644.7h0M915 645.2h0M913 647.9h0M909.3 649.2h0M906.9 645.1h0M902.8 645.7h0M902.4 645.7h0M895.9 643.2h0M892.8 641.4h0M889.9 638.2h0M888.3 637.7h0M889.1 635.9h0M859 617.9h0M857.8 617.9h0M856.6 618.6h0M851.1 612.6h0M850.6 611.7h0M851 609.3h0M853.7 605.9h0M857.4 602.6h0M857.1 602.4h0M862.6 602.9h0M864.4 602.8h0M865.8 608.9h0M869.2 609.2h0M868 612.3h0M860.9 616.1h0M863.1 617.2h0M1080.2 640.8h0M891.2 558.8h0M901.6 584.2h0M907.7 582h0M893.9 554h0M909.2 576.3h0M885.8 564.2h0M900.8 555.5h0M898.8 573.1h0M900.2 566.8h0M878.5 559.8h0M893.2 579.8h0M872.8 560.8h0M872.7 563h0M885.9 568.1h0M881.4 565.5h0M910.9 584.8h0M889.7 574.3h0M893.3 559.2h0M909.4 588.2h0M893.8 576.2h0M888 576.9h0M903.5 569h0M902.6 556.4h0M892.7 590h0M894.9 564.7h0M886.1 564h0M907.9 575.3h0M891.7 562.7h0M897.7 586h0M886.6 575.2h0M885.8 571.1h0M885.2 571.2h0M883.1 563.4h0M900.7 563h0M884.2 566.8h0M911.7 574.5h0M896.8 579.7h0M877.3 567h0M878.5 568.2h0M904.3 591.3h0M881.7 559.6h0M895.4 577.3h0M889.8 568.1h0M886.8 572.2h0M893.3 567.4h0M884.2 561.2h0M900.2 591.2h0M903.8 569.2h0M897.2 579.9h0M902.3 593h0M904 574.1h0M896.1 574.9h0M899.1 554.7h0M909.7 633h0M910.1 632.9h0M910.3 630.5h0M911.6 634.3h0M912.3 637h0M906.2 639.6h0M897.4 629.5h0M974.4 445.5h0M973.4 445.8h0M978 444h0M980.7 442.1h0M983.5 442.5h0M986.3 442.3h0M985.9 441.5h0M987.4 441.8h0M990.8 441.9h0M993.7 443h0M994.2 442.9h0M997.7 441.7h0M999.1 442.1h0M1000 442.6h0M1003.2 442.8h0M1004.8 443.1h0M1006 442.4h0M1008.7 442.7h0M1011.2 443.8h0M1013.3 443.7h0M1014.3 443h0M1014.9 442.4h0M1017.8 443.6h0M1020.4 444.8h0M1021.8 443.3h0M1023.3 443.5h0M1026.8 444.1h0M1027.4 443.1h0M1017.5 445.6h0M1018.5 449.4h0M1020.5 452h0M1023.6 454.5h0M1025.6 454.7h0M1028.5 452.3h0M1030.6 452.8h0M1033.2 448.5h0M1033.5 447h0M1032.5 445.4h0M1032 446.3h0M1027.4 445.4h0M1024.6 445.7h0M1019.7 447.1h0M1017.8 445.7h0M1039.7 450.3h0M1039.5 450.1h0M1039.6 450.1h0M1039.2 449.8h0M1039.4 449.8h0M1043.8 453.9h0M978 453.1h0M1001.3 460h0M1014 463.3h0M1024 460.7h0M1003.3 451.3h0M996 450.7h0M1031.3 472h0M1245.9 665.8h0M1242.6 665.8h0M1240.1 668.1h0M1237.7 668.6h0M1237.4 670.2h0M1232.7 674h0M1230.9 675h0M1228.5 677.6h0M1224.8 682.2h0M1225.5 683.7h0M1221.9 687h0M1220.1 686h0M1219.2 689.2h0M1214.8 693.2h0M1214.3 695.7h0M1213.3 697.6h0M1213.1 698.1h0M1209.8 699.7h0M1205.4 703h0M1204 705.8h0M1203.2 707.8h0M1198.5 708.3h0M1197 711.7h0M1193.4 712.9h0M1191.5 713.2h0M1187.1 716h0M1185.7 717.5h0M1181.4 721.8h0M1178.5 723.7h0M1177.1 726.5h0M1176 725.4h0M1172.7 728.1h0M1170.4 731.1h0M1168.6 731.1h0M1165.2 732.8h0M1160.7 731.7h0M1159.8 735.7h0M1158.4 739.7h0M1154.1 744.3h0M1152.6 742.3h0M1149.9 744.5h0M1147.3 747.1h0M1145.2 750.5h0M1144.2 749.8h0M1142.8 750.9h0M1138.8 754h0M1135.1 755.2h0M1133.6 756.3h0M1129.7 758h0M1126.5 759h0M1121.4 758.4h0M1120.9 758.8h0M1116.9 762h0M1114.7 763.1h0M1108 760.5h0M1106.7 760.8h0M1104.5 756.6h0M1101.3 763.1h0M1097.8 762h0M1095 763.8h0M1093.3 762.9h0M1091 761.8h0M1089 763.9h0M1083.4 760.6h0M1082.7 760.5h0M1077.4 760h0M1076.5 760.7h0M1071.7 761.8h0M1070.4 761.8h0M1067.5 764h0M1061 762.2h0M1059.5 765.9h0M1057.9 767.4h0M1055.2 764.9h0M1048.9 764.1h0M1047.3 765.7h0M1045.3 764.7h0M1041.7 762.8h0M1040.3 762.4h0M1036.8 765.4h0M1034.7 770.2h0M1032.2 771.5h0M1033.3 774.1h0M1031.2 775.9h0M1029.3 781.3h0M1025.4 781.2h0M1022.6 783.7h0M1019.2 781.7h0M1015.1 785.9h0M1013.3 786h0M1011.9 786.1h0M1008.9 785h0M1005.2 788.8h0M999.3 790.6h0M998.7 790.2h0M995.8 791.3h0M994.3 792.2h0M993.2 796.1h0M994.3 797.1h0M995.9 800.7h0M998.4 806.2h0M999.9 809.4h0M1001 810.8h0M1002.8 815.6h0M1003.7 816.9h0M1003.4 819.7h0M1005.6 822.4h0M1010.6 824.6h0M1012.7 826.4h0M1014.3 828.9h0M1017.6 829.7h0M1016.1 830.4h0M1021.7 831.2h0M1027.7 835.2h0M1023.8 833.9h0M1032.7 837.1h0M1035 837.7h0M1041.2 836.4h0M1042 837.4h0M1042.6 836.8h0M1046.4 835.3h0M1048.7 834.5h0M1054.9 834.6h0M1057.8 832.8h0M1060.4 832.7h0M1065.7 834.4h0M1064.1 831.7h0M1070.4 831.1h0M1070.8 831.6h0M1076 826.7h0M1077.9 827.4h0M1081.2 827.4h0M1081.6 824.2h0M1086.6 822.8h0M1091.8 821.8h0M1091.1 821.8h0M1092.7 820.1h0M1099 819.7h0M1101.3 817.3h0M1106.3 817.8h0M1107.3 815h0M1109.7 812.6h0M1112.3 809.8h0M1117.5 808.4h0M1116.9 807.9h0M1118.3 806.9h0M1124.2 804.1h0M1126.2 803.8h0M1129 804.2h0M1131.4 801.1h0M1137.5 799.5h0M1138.8 798.9h0M1143 794.4h0M1141.5 794.2h0M1145.8 793.9h0M1148.7 792h0M1153.2 788.9h0M1154.7 789.9h0M1159.8 785.6h0M1159.5 787.9h0M1165.7 786.9h0M1168.7 781.6h0M1168.5 780.2h0M1171.2 782.6h0M1173 779.3h0M1176.5 777.6h0M1180.3 777h0M1181 775.9h0M1186.3 773.6h0M1189.4 769h0M1192.1 770.4h0M1193.7 769.6h0M1197.2 769.2h0M1199.6 766.2h0M1201.5 762h0M1205.4 764.2h0M1206.9 758.2h0M1206.3 758.5h0M1203.6 752.1h0M1201 750.3h0M1204.3 745.1h0M1205.5 744h0M1205.6 740.6h0M1207.3 738.7h0M1209.3 733h0M1211.5 731.7h0M1213.6 728.5h0M1213.8 725.3h0M1215 724h0M1214 720.2h0M1217.5 717.4h0M1217.5 714.9h0M1217.6 709.9h0M1215.5 709.4h0M1217.4 705.2h0M1220.3 702.8h0M1220.8 698.1h0M1221.6 699.1h0M1224.4 695.1h0M1224.2 692.2h0M1227.4 686.6h0M1229.6 686.6h0M1232.8 682.7h0M1230.3 679.1h0M1231.6 678.2h0M1235.7 675.4h0M1238.9 670.2h0M1242.9 669.6h0M1242.8 668.1h0M1244.6 665.4h0M1251.4 665.5h0M1252.6 663.2h0M1254.3 665.5h0M1256.3 667.8h0M1260.2 672.7h0M1260 672.9h0M1264.1 674.8h0M1266.4 676.6h0M1266.8 682.6h0M1267.6 679h0M1266.6 678.4h0M1266.2 675.6h0M1262.1 673.9h0M1261.9 671.2h0M1257.7 668.6h0M1257.2 668h0M1254.2 662.6h0M1251 662.8h0M1247.4 662.6h0M1051.5 693.5h0M1048.9 698.5h0M1047.9 703h0M1049.4 704h0M1048.5 706.1h0M1049.7 707.6h0M1055 710.8h0M1059.8 710.4h0M1060.7 708.2h0M1061.6 710.4h0M1064 707.7h0M1068.3 705.6h0M1073 706.9h0M1075.8 706.7h0M1075 707.9h0M1079.5 711.8h0M1079.6 712.7h0M1078.4 716.4h0M1084 713.1h0M1088 709.9h0M1086.8 711.1h0M1089.3 708.8h0M1089 705.9h0M1089.1 705h0M1094.3 700.8h0M1096.5 699.7h0M1101.7 697.9h0M1105.9 697.2h0M1106.9 698.8h0M1109.5 697.6h0M1115.5 701.8h0M1115.9 699.1h0M1115.8 703.6h0M1115.2 708.4h0M1118.5 713.8h0M1116.2 717.5h0M1117.7 714.9h0M1124.5 717.5h0M1128.7 720.1h0M1132 720.6h0M1135.1 718.4h0M1136.2 724.2h0M1136.4 722.9h0M1140.9 722.7h0M1147.8 723.4h0M1147.2 722.9h0M1144.7 722.5h0M1143.8 720.8h0M1141.1 720.6h0M1139.9 717.5h0M1134.6 716.1h0M1130 712.4h0M1130.6 712.2h0M1129.6 706.6h0M1128.3 703.7h0M1127.6 701.8h0M1125.6 701.5h0M1123.3 694.7h0M1119.8 694.2h0M1120.5 692.5h0M1121 687.5h0M1114.3 688.3h0M1109 687.1h0M1108 686.5h0M1104.8 684h0M1104.3 684.4h0M1098.8 683.2h0M1095.6 683.6h0M1092.9 685.1h0M1090.5 682.3h0M1088.1 680.8h0M1080 678.8h0M1080.3 678.7h0M1078.4 683.1h0M1073.3 681.6h0M1073.6 682.8h0M1068 686.9h0M1067.2 683.7h0M1062.7 685.9h0M1059.8 686.2h0M1056.4 688.3h0M1052.2 691.4h0M1053.1 690.3h0M1153 723.1h0M1213 686.2h0M1190.7 702.2h0M1178.1 708.1h0M1184.3 704.6h0M1204.7 690.7h0M1179.1 705.8h0M1188.5 686.9h0M1175.2 690h0M1180.4 712.3h0M1177.9 693.7h0M1194.7 687.5h0M1192.9 689.8h0M1176.4 693.4h0M1180.2 688.4h0M1180 677.3h0M1175.2 689.8h0M1179.3 709.1h0M1193.5 682.9h0M1196.3 694h0M1174.8 707.5h0M1204.2 684.1h0M1191.6 695.5h0M1187.3 679.7h0M1190.5 687.3h0M1188 678.2h0M1194.1 697.2h0M1173.9 700.6h0M1211.6 686.3h0M1174.4 681.7h0M1184.1 683.9h0M1195.5 678.3h0M1173.3 713.9h0M1187.6 689.1h0M1171.5 687.5h0M1193.8 692.8h0M1191.4 685.2h0M1206.8 687.1h0M1181.2 677.7h0M1174.4 683.2h0M1193.8 690.9h0M1175.2 682.2h0M1180.4 712h0M1168.8 678h0M1191.4 684.6h0M1182.5 692.4h0M1171.3 700.8h0M1177.9 712h0M1177.9 713.4h0M1189.2 705.7h0M1173.2 705.7h0M1041.5 736.6h0M1039.1 747.7h0M1133.1 748.3h0M1131.8 734h0M1117.4 748.8h0M1102.8 745.1h0M1131.3 730.9h0M1035.1 737.3h0M1114.2 751.4h0M1053.7 724.3h0M1104 725.2h0M1065.4 746.3h0M1030.2 738.4h0M1120.8 736.9h0M1069.3 734.9h0M1032.2 738.1h0M1114.9 753.1h0M1056.6 752.4h0M1071.9 751.2h0M1077 744.9h0M1119 745.5h0M1076.5 732.2h0M1109.3 730.4h0M1064.5 746.5h0M1028.7 744.1h0M1065.4 739.2h0M1045.5 730.4h0M1083 736.3h0M1064.1 754.7h0M1073.8 750.4h0M1097 745.7h0M1056.2 745h0M1072.7 731.4h0M1073.7 741.4h0M1084.3 721.7h0M1136.3 738.9h0M1044.3 728.1h0M1080.7 735.1h0M1122.3 731.9h0M1088.4 741.1h0M1064.5 723.7h0M1069.7 736.5h0M1047.8 731.5h0M1105.3 746.2h0M1126.4 728.4h0M1112.3 732.4h0M1069.9 726h0M1058.5 754.1h0M1040.9 748.9h0M1056.8 724.1h0M1089.9 742.9h0M1109.2 725.1h0M1117.8 733.2h0M1033.8 743.8h0M1028.5 734.3h0M1059.9 745.8h0M1088.5 741.5h0M1025.1 731.5h0M1042.1 749.6h0M1129.2 749.4h0M1099.3 745.3h0M1098 739.9h0M1142 741.5h0M1123.2 739.7h0M1066.5 737.9h0M1126.3 730.4h0M1076.1 735.9h0M1091.9 734.1h0M1073.4 741.1h0M1089.6 734.8h0M1123.2 745.4h0M1139 743.7h0M1096.1 738.7h0M1049.5 729.1h0M1047.3 733.8h0M1113.8 747.5h0M1106.1 733.1h0M1067.5 720h0M1045.9 747.2h0M1074.7 733.4h0M1132.2 739.8h0M1062.1 745.2h0M1084.7 728.3h0M1112.7 729.7h0M1036.8 743.7h0M1109.1 752.2h0M1077 725.7h0M1130.4 735.3h0M1121.6 726.8h0M1029.8 746.6h0M1088.9 734.8h0M1030.6 735.1h0M1067 752.7h0M1083.5 727.7h0M1115.2 740h0M1117.9 731.5h0M1115.6 746h0M1112.8 726.2h0M1067.1 723.6h0M1028.7 748.3h0M1094.3 740.8h0M1051.2 741h0M1088.7 736.8h0M1045.4 737h0M1054.1 732h0M1138.1 743.4h0M1090.6 746.2h0M1037 748.2h0M1136.4 746.5h0M1076.9 743.6h0M1036.2 731.5h0M1090.4 746.2h0M1034.2 734.1h0M1127.4 744.6h0M1073.3 728.6h0M954.6 741h0M955.3 745.5h0M960.6 744.7h0M961.3 744.2h0M961.1 743.4h0M969 743.4h0M969.5 743.3h0M973.5 741.4h0M976.1 739.9h0M978.9 739.1h0M980.9 735.5h0M983.9 739.9h0M984.4 739.2h0M985.5 738.4h0M993.1 734h0M995.8 734.2h0M996.2 729.6h0M999.7 729.2h0M999.8 726.9h0M1003.5 723.8h0M1004.1 719.8h0M1001.6 718.7h0M999.5 716.9h0M997.2 718h0M992.4 718.3h0M990.8 716.6h0M987.7 716.5h0M983.2 714.2h0M983.9 713h0M980.1 709.9h0M978 716h0M978.7 714.5h0M973.3 721.3h0M974.4 718.3h0M971.2 725.6h0M970.7 728h0M967.2 730.8h0M965.6 734.3h0M962.7 733.1h0M961.4 735.8h0M959.5 738.8h0M956.8 737h0M950 758.8h0M988.8 755.5h0M997.5 710h0M1003.8 742.5h0M1012.5 746.2h0M1007.5 750h0M1021.2 750.8h0M1028.8 751.2h0M1000 775h0M980 802.5h0M945 821.2h0M887.7 858.6h0M888.5 860.1h0M892.2 862.1h0M893.4 865.4h0M894.7 866.8h0M896.5 870.3h0M899.1 871.5h0M899.8 871.1h0M904.3 879.4h0M907.9 879.7h0M910.1 880.8h0M911.1 879.6h0M913.9 886.9h0M916.8 886.3h0M920.5 880.4h0M920.2 880.3h0M920.5 878.5h0M923 873.3h0M925.1 868.9h0M921.6 867.5h0M921 864.1h0M919.1 859.6h0M919.5 855.9h0M920.7 858.4h0M922.5 854.6h0M925.6 848.2h0M928 844.5h0M924.7 844.7h0M929 842.1h0M929.3 838.3h0M927 837.6h0M922.6 840h0M919.8 840.4h0M916.6 842.4h0M912.9 843.6h0M910.7 842.6h0M907.9 845.6h0M905.5 846.1h0M902.4 847.9h0M899.1 846h0M894.7 849.9h0M890.2 849.9h0M890.3 852.7h0M890.1 854.3h0M918.8 890h0M921.2 897.5h0M925 903.8h0M930 905h0M935 900h0M941.2 898.8h0M947.5 898h0M955 901.2h0M963.8 903.8h0M925 888.8h0M930 903.8h0M792.5 891h0M791.9 895.1h0M794.7 900.5h0M794.6 899.6h0M795.8 904.3h0M793.1 904.8h0M798.6 907.3h0M801.3 905.6h0M803.8 906.2h0M805.9 907.1h0M812.2 910.3h0M813.4 913.2h0M817.5 911.2h0M822 910.6h0M820.9 907.6h0M824.3 909.4h0M825.9 909.6h0M831.8 914.1h0M836.5 914.8h0M835.6 915.6h0M840.5 916.5h0M843.6 918.6h0M844 915.8h0M840.3 911.4h0M839.7 906.7h0M836.9 903.1h0M839.8 904.6h0M840 898.3h0M845.1 893.5h0M844.6 894.5h0M846.7 891.9h0M849.6 888h0M852.1 886.6h0M857 885.5h0M855.5 881.1h0M858.4 880.8h0M855.9 882.5h0M852.7 883.6h0M847.5 886.8h0M844.2 885.8h0M841.2 889.3h0M839.4 886.8h0M837.7 887.8h0M835.7 884.9h0M830.6 885.6h0M827.2 884h0M827.2 883.2h0M822.9 877.9h0M823.4 877.3h0M823.4 872.7h0M821.2 869.1h0M821.8 866.6h0M819.4 872.3h0M817.4 872.7h0M816.9 876.5h0M815.5 875.2h0M812.7 879.8h0M810.1 880.6h0M805.3 885.5h0M803.4 886.7h0M799.8 888.6h0M798.1 888.8h0M795.7 887.3h0M867.1 878.4h0M867 879h0M867.8 878.4h0M866 879.3h0M866.2 870.8h0M851.2 897h0M981.2 920h0M981.2 931.2h0M967.9 947.5h0M965.4 949.2h0M964.6 951.5h0M963.2 956.6h0M961.8 959h0M958.4 959.2h0M958.8 963.9h0M956.6 965.7h0M956.3 970.6h0M960.3 969.6h0M961.7 966.9h0M965.1 967h0M966.7 964.1h0M973.7 962.5h0M972.1 963.5h0M974.2 966h0M977.5 965.4h0M978.8 963.9h0M976.8 959.4h0M975.9 955.9h0M977.1 949.5h0M975 948.9h0M973.7 945.2h0M972.6 946.3h0M983.7 648.3h0M993.4 642.8h0M990.8 636.8h0M993.4 638.2h0M982.5 637.6h0M986.8 652.8h0M994.3 641.6h0M980.8 639.1h0M995 643.2h0M986.8 634.5h0M989.3 637.7h0M995 639.9h0M982.9 638.3h0M987.4 630.9h0M985.5 632.9h0M985.5 643.6h0M982.4 649.9h0M981.9 642.6h0M981 644.4h0M985.9 646.4h0M1016.6 640.3h0M1020.4 640.8h0M1022 642.6h0M1024.8 643.7h0M1027.5 643.6h0M1030.5 646.8h0M1034.2 649.2h0M1035.3 650.1h0M1039.8 649.2h0M1044.2 653.7h0M1046.6 646.1h0M1049.2 645.8h0M1047.9 647.4h0M1044.9 645h0M1044.9 642.9h0M1039.1 642.1h0M1033 642.2h0M1032.1 639.3h0M1028.2 638.3h0M1027.9 639.4h0M1024.5 633.3h0M1021.1 636.4h0M1016.4 636h0M1052.3 649.9h0M1030.6 688.7h0M1032.3 666.4h0M1032.8 671.3h0M1030.6 671h0M1031.5 664.9h0M1034.8 683.8h0M1032.2 671.3h0M1033 686.1h0M1030.5 673.5h0M1038.2 680.1h0M1031.4 675.4h0M1029.2 674.9h0M1028.8 671.8h0M1028 676.1h0M1029.4 661h0M1037.1 687.3h0M1041 670.9h0M1033.3 689h0M1029.4 671.6h0M1036.3 664.5h0M1035.5 683.1h0M1029.9 667.7h0M1034.4 688.4h0M1033.9 679.8h0M1032.4 690.3h0M1031.9 684.1h0M1040.3 676.2h0M1036.3 681.5h0M1032.4 662.2h0M1034.8 663.8h0M1035.8 669.1h0M1039.5 678.4h0M1033.1 691.9h0M1028.6 669.5h0M1029.5 614.2h0M1096.3 667.4h0M1100.2 672.5h0M1045.8 615.7h0M1072.4 614.2h0M1079.7 648.3h0M1073.5 664.2h0M1044.8 619.3h0M1007.5 608.8h0M1091.7 673.1h0M1010 623.4h0M1021.1 613.2h0M1093.3 671.7h0M1099.9 646.6h0M1062.1 668.3h0M1075.3 662.8h0M1076.8 640h0M1101.3 667.1h0M1100.7 648.3h0M1086.6 619.1h0M1105.3 664.1h0M986.9 609.5h0M1122.4 656.5h0M1076.9 614.3h0M1058.9 609.9h0M1108.2 636.8h0M1100.4 671.1h0M1079.6 651.9h0M1083.2 652.9h0M1021.4 621.2h0M1090.9 674.1h0M1101.8 647.2h0M1100.6 621.3h0M1102.1 629.8h0M1007.1 622.8h0M1095.4 653.6h0M1087.6 640.2h0M1101.6 618.2h0M1085.2 613.1h0M1046.9 610h0M1056 622h0M1042.4 615.8h0M1058.9 672h0M1114.1 632.1h0M1068 610.7h0M1056.4 653h0M1069.5 620.4h0M1079.8 651.3h0M1056 626.7h0M1116.9 631.3h0M1077.8 673.2h0M1068.4 662.6h0M989.1 611.1h0M1117.1 609.1h0M1115.7 624.5h0M1066.1 635.7h0M1113.9 657.1h0M1105.4 675.1h0M1008.9 609.1h0M1047.2 607.2h0M1118.2 659.4h0M1029.1 618.5h0M1105.5 611.9h0M1102 637.9h0M1100.5 636.2h0M1071.5 645.1h0M1012.6 613h0M1094.5 637h0M1044.7 607.8h0M1069.4 662.9h0M1121.7 617.3h0M1121.2 629h0M1098.6 639.6h0M1078.8 619.5h0M1086.6 673.5h0M1119.4 639.4h0M1110.5 646.8h0M1102.7 660.4h0M1056.6 614.3h0M1071.6 672h0M1074.6 608.9h0M1074.6 619.6h0M1123.8 640h0M1087.7 666.5h0M1048.9 629.9h0M1119.7 611.2h0M1095 654.5h0M1086.4 658.1h0M1119.4 634h0M1072.1 603.5h0M987.3 618.3h0M1106.5 628.9h0M1064.7 659.1h0M1059.4 669h0M1043.9 606.3h0M1080.6 628.5h0M1054.9 606.7h0M1119.6 635.3h0M1035.6 614.1h0M1091.8 607.8h0M1040.1 628.6h0M1024.4 621.3h0M1106 651.3h0M1109.4 636.3h0M1096.4 625h0M1055.9 636.5h0M1084.9 662h0M1056.9 607.4h0M1059.4 607.6h0M1115.3 647.8h0M988.8 610.4h0M1046.7 603.4h0M1001.9 621.3h0M1065.6 672.2h0M1128.5 627.9h0M1079.3 626.2h0M1107.1 657.5h0M1033 609.9h0M1085.8 669.1h0M1062.4 610.7h0M1074 653.1h0M1081.4 663.5h0M1106.8 670.1h0M1042.5 618.1h0M1020.4 612.6h0M1062.4 675.3h0M1129.5 637.8h0M1073.2 650.1h0M1082.8 604.7h0M1087.3 671.7h0M1080 654.8h0M1099 614h0M1071.8 624.4h0M1056.1 668.5h0M1057.2 626.2h0M1106.8 656.9h0M1083.4 625.9h0M1067.8 650.1h0M1100.1 667.9h0M1071.4 665h0M1107.7 669.2h0M1067.3 643.3h0M1113 654h0M1025.1 610.3h0M1086.8 605.3h0M1065.2 661.6h0M1128.8 604.2h0M1089.1 666.8h0M1070 614.6h0M1058.9 605.2h0M1120.4 644.3h0M1124.7 612.1h0M1098.7 631.1h0M1105.1 667.3h0M1037.3 622.7h0M1065.8 661.3h0M1052.8 628.8h0M1122 617.3h0M1119.1 646.6h0M1053.7 631.5h0M1119.7 661.7h0M1130.1 630.2h0M1049.3 629.4h0M1127.8 617.5h0M1023.5 606.9h0M1025.4 611.8h0M1099.9 622.6h0M1058.1 644.7h0M1058.7 643h0M1021.1 615.9h0M1026.1 615.7h0M1129.6 612.2h0M1115.4 653.6h0M1104.2 670h0M1003.4 612.1h0M1099.2 607h0M1034 611.7h0M997.9 606.6h0M1002.8 618.5h0M1083.4 607.1h0M1078.5 654.2h0M1034.8 620.7h0M1076.7 622.1h0M1117.9 623.6h0M1088.5 654.1h0M1066.3 657.5h0M1074.4 642.6h0M1078.8 609.9h0M1034.6 622.9h0M1073.1 663.6h0M1129.8 615.4h0M1086.6 624.3h0M1096.7 659.7h0M1093.5 671.8h0M1109.2 669.2h0M1072.2 622h0M1069.2 634.6h0M1073.7 627.2h0M1072.7 628.9h0M1070.7 645.5h0M1073.7 622.4h0M1073.9 636.5h0M1072.2 631.5h0M1070.2 648.3h0M1071 642.7h0M1071.7 617.3h0M1074.3 632.1h0M1069.2 636.1h0M1074.3 624.8h0M1069.9 621.1h0M1068.5 623.8h0M1069 619.8h0M1073 641.8h0M1069.5 645.6h0M1073.6 633.9h0M1068.9 646h0M1072.4 642h0M1068.7 623.5h0M1072.1 643.8h0M1069.4 620.7h0M1072.1 618.5h0M1073.9 618.7h0M1126.1 661.1h0M1128.1 658.9h0M1129.3 658.8h0M1130.1 654.2h0M1135.2 650.6h0M1134.7 651.5h0M1139.4 649.3h0M1142.4 649.5h0M1146.9 645.7h0M1148.3 644.1h0M1151.4 642.1h0M1153.8 640.7h0M1154.1 640.4h0M1156.3 634.2h0M1152.2 636.7h0M1149 635.3h0M1148.7 635.6h0M1142 636.3h0M1139.4 636.2h0M1138.6 635.5h0M1133.7 637.5h0M1132.2 636.4h0M1131.3 639.8h0M1129.8 644.8h0M1127.2 646.7h0M1128.1 651.4h0M1129.7 653.6h0M1127.8 656h0M1126.5 658.1h0M1125.6 662.2h0M1122 668.4h0M1130.7 562.7h0M1126.7 568h0M1128 621.3h0M1132.7 626.7h0M1109.3 626.7h0M1112 633.3h0M1112 642h0M1112 653.3h0M1121.3 631.3h0M1124 634.7h0M1093.3 632h0M1098.7 631.3h0M1104 632h0M1095.3 619.3h0M1086.7 648h0M1083.3 664h0M1075.3 673.3h0M1096 672.7h0M1105.3 675.3h0M1189.8 1187.3h0M1190.4 1184.2h0M1192.2 1181.8h0M1196.8 1183.4h0M1198.4 1181.8h0M1200.3 1178.5h0M1204.7 1177h0M1209.1 1175h0M1209.5 1173.5h0M1215.2 1171.3h0M1214 1169.5h0M1220.5 1164.5h0M1221.7 1166.4h0M1224.1 1164.1h0M1227.6 1159.3h0M1228.1 1162.3h0M1232.5 1156h0M1235.4 1157.9h0M1236 1152.9h0M1242.3 1153h0M1245.2 1154.4h0M1247.3 1152.7h0M1248.8 1152.8h0M1251.7 1150.1h0M1255.6 1152.2h0M1256.7 1146.5h0M1258.3 1140.8h0M1260.1 1141.7h0M1263 1138.9h0M1266.6 1138.3h0M1270.7 1135.5h0M1269.9 1137.2h0M1274.7 1134.2h0M1277.9 1131.8h0M1279.5 1131.5h0M1283.5 1131.3h0M1284.2 1128.7h0M1290.8 1128.1h0M1293.2 1125.7h0M1294.5 1124.6h0M1297 1123.9h0M1301.2 1124.2h0M1302.2 1120.6h0M1305 1118.8h0M1310.9 1116.4h0M1311.4 1114.1h0M1313 1111.7h0M1315.4 1111.4h0M1319.3 1111.4h0M1320.8 1107.6h0M1323.4 1104.1h0M1324.9 1104h0M1329.3 1098.2h0M1328 1099.3h0M1330.7 1095.2h0M1333.8 1091h0M1336.5 1088.2h0M1333 1087.1h0M1337.1 1083.6h0M1337 1079.9h0M1337.7 1077.4h0M1340.6 1074.4h0M1340.3 1068.9h0M1337.1 1067.8h0M1337.3 1062.7h0M1334.7 1061.1h0M1332.3 1056.9h0M1332.7 1055.9h0M1329.9 1051.4h0M1331.2 1049.6h0M1329.5 1045.5h0M1327.8 1045.3h0M1323.2 1048.8h0M1324.1 1048.4h0M1316.5 1046.6h0M1314.7 1046.6h0M1313.7 1046.4h0M1307 1045.5h0M1305.3 1046.7h0M1302.4 1045.8h0M1299.7 1045.4h0M1295 1042.4h0M1293.5 1043h0M1290.5 1043h0M1286.7 1038.4h0M1283.7 1038.6h0M1281.2 1036.2h0M1280.3 1035h0M1278.8 1031.6h0M1274.4 1028h0M1275 1026.6h0M1272.1 1025h0M1270.9 1020h0M1270.5 1020h0M1268.9 1014.1h0M1271 1010.9h0M1272.2 1010.2h0M1276.8 1009.4h0M1278.3 1008h0M1282.6 1007.4h0M1283.3 1004.9h0M1288.1 1002.7h0M1291.8 1004.5h0M1293.5 999.9h0M1295.5 997.1h0M1299.2 997.8h0M1301.3 999.2h0M1305 1000.5h0M1307.9 998.6h0M1310.1 1000.3h0M1316.9 1003h0M1316.3 997.2h0M1323.4 996.2h0M1321.4 995.4h0M1325.4 994.1h0M1328.6 992.2h0M1332.3 990h0M1332.1 989.2h0M1335.8 984.5h0M1336 982.3h0M1338.1 981.1h0M1341.1 975.5h0M1338.5 973h0M1342.1 971.7h0M1345.1 965.2h0M1344.1 965.5h0M1347.9 962.7h0M1352.3 960.4h0M1351.3 960.6h0M1348.1 955.7h0M1346.9 950.7h0M1345.5 949.6h0M1343.6 945.1h0M1344.9 942.2h0M1347.1 940.8h0M1348.1 936.2h0M1348.7 932.6h0M1349.2 932h0M1345.5 930.6h0M1341.4 932.9h0M1343.1 931.7h0M1338.3 935h0M1333.5 936.9h0M1333.6 939h0M1333 939.6h0M1330.3 940.5h0M1324.1 938.5h0M1323.4 942h0M1321.8 940.2h0M1314.5 941h0M1312.7 942.3h0M1309.1 944.9h0M1306.8 947.7h0M1303.5 947.1h0M1300.9 948.9h0M1297.8 951.6h0M1296.9 951.2h0M1293.2 952.6h0M1292.9 952.9h0M1288.4 953.2h0M1281.1 954.3h0M1279.6 953.9h0M1275.2 951.1h0M1274.6 949.8h0M1271.4 943.4h0M1271.1 942h0M1267.9 941.5h0M1267 936.1h0M1264.5 934.8h0M1266.8 930h0M1263.9 932.7h0M1260 929.6h0M1258 924.8h0M1255.6 920.9h0M1255.4 918.4h0M1251.2 921h0M1249.8 922.8h0M1246.4 921.8h0M1247.2 919.5h0M1241.5 914.3h0M1238.6 917.4h0M1235.4 914.3h0M1234.3 911.8h0M1231.4 910.1h0M1228 909.8h0M1224.9 906.5h0M1225.6 905.7h0M1221.4 904.2h0M1223 900.5h0M1223.9 897h0M1226.7 895.6h0M1230.7 892h0M1227.8 890.5h0M1228.9 891.3h0M1223.6 894.3h0M1220.6 893.6h0M1217 894.2h0M1216.1 894.7h0M1210.6 893.2h0M1206 893.1h0M1204.3 896.3h0M1202 898.1h0M1201.2 897.1h0M1197.3 901.1h0M1197.5 903h0M1191.8 903.4h0M1192.1 905.2h0M1187.5 909.1h0M1189 908.9h0M1190.2 914.6h0M1190.6 916.8h0M1194.6 919.7h0M1198.8 921.3h0M1198.8 919h0M1203.6 921.4h0M1206 919.7h0M1209.9 924.4h0M1208.8 924.8h0M1210.8 929.6h0M1213.9 933.6h0M1216.9 936.1h0M1216.5 937.7h0M1219 937.8h0M1216.7 942.2h0M1216.9 948.5h0M1214.9 948.6h0M1214 952.4h0M1210.8 955.3h0M1210.3 957.2h0M1209.3 957.8h0M1204.6 963.5h0M1200.4 963.7h0M1199.3 962.7h0M1196.9 963.5h0M1192.5 959.5h0M1190.5 960.5h0M1189.2 958.4h0M1185.8 954h0M1179.3 956.4h0M1175.8 954.6h0M1174 957.7h0M1174.4 956.2h0M1170.9 956h0M1165.2 956.9h0M1161.9 958h0M1160.6 959.7h0M1159.7 963.2h0M1153.6 963h0M1151 965.2h0M1148.7 962.8h0M1140.2 963.4h0M1142.5 965.6h0M1138.4 965.3h0M1136.9 965.8h0M1135 965.9h0M1129.4 966.2h0M1125.4 967.9h0M1123.1 971h0M1120.7 971.2h0M1117.3 973.7h0M1115.8 971.5h0M1110.9 974.2h0M1109.5 974.8h0M1105.9 978.1h0M1106 979.2h0M1099.5 977.9h0M1095.5 979.3h0M1092.2 980.3h0M1089.8 981.7h0M1088.7 983.6h0M1085.3 985.2h0M1082.3 987.5h0M1081 989.8h0M1078.3 990h0M1075.3 991h0M1072.2 995.2h0M1069.4 992.2h0M1063.7 995.8h0M1058.4 997.9h0M1062.1 998.4h0M1059 1000.2h0M1055.9 1001.3h0M1054.1 1002.5h0M1050.8 1004.2h0M1046.2 1007.4h0M1046.4 1010.1h0M1041.1 1014.5h0M1040.6 1017.3h0M1038.3 1017.1h0M1037.1 1016.9h0M1030.7 1019.4h0M1030.9 1021.6h0M1030.4 1025.2h0M1026.8 1024h0M1023.5 1029.1h0M1020.8 1028.3h0M1018.7 1033.4h0M1017.7 1037.8h0M1016.2 1034.9h0M1011.2 1039.5h0M1010.6 1041.9h0M1008.6 1043.1h0M1005.1 1048h0M1002.7 1050.3h0M1004.5 1050.7h0M1002.6 1055.6h0M999.5 1057.1h0M997.5 1061.4h0M998.2 1065h0M996.2 1069.1h0M991.5 1070.1h0M989.4 1073.9h0M991 1073.8h0M988 1079.1h0M988.5 1076.8h0M982.7 1081.2h0M976.8 1083.1h0M975.8 1081.8h0M973 1081.3h0M968.7 1080.6h0M967.7 1081.4h0M963.9 1081.7h0M963.1 1080.3h0M957.2 1082.7h0M951.3 1081.5h0M952.3 1083.2h0M949.8 1082.5h0M948.5 1082.8h0M942.1 1082.1h0M938.4 1079.9h0M935.5 1078.1h0M934.5 1077.8h0M930.3 1077h0M929.4 1074.7h0M924.8 1073.2h0M923.6 1072h0M919 1069.5h0M919.8 1066.1h0M920.5 1061.9h0M920.8 1060.8h0M924.4 1058.7h0M926.7 1054.2h0M928.5 1052.4h0M929.2 1051.6h0M933.1 1049.6h0M934.4 1045.7h0M937.1 1040.9h0M937 1038h0M941.7 1037.1h0M941.5 1033.5h0M938.8 1033.9h0M934.8 1035.2h0M930.7 1032.8h0M930.4 1035.2h0M922.8 1035.5h0M922.4 1039h0M918.4 1038.1h0M915.3 1037h0M914.2 1037.6h0M907.9 1031.9h0M907.9 1034.7h0M904.4 1034.6h0M902 1030.4h0M902.2 1026.3h0M906.2 1026.1h0M908.7 1024.2h0M910.7 1021.6h0M909.4 1020.1h0M905.1 1020.8h0M901.9 1021.8h0M899.4 1024.8h0M897.8 1024.6h0M892.6 1028h0M890.9 1027.6h0M885.7 1026h0M884.9 1026.9h0M890 1021.8h0M889.5 1022.3h0M888.8 1019.2h0M885.3 1020.2h0M880.4 1023.2h0M882.6 1021.7h0M879.9 1024.1h0M873.7 1025.2h0M873.3 1023.4h0M869.7 1023.4h0M864 1028.6h0M863.8 1032h0M861.7 1031.1h0M861.6 1031h0M856.8 1034.6h0M854.8 1040.9h0M852.3 1041.2h0M852.9 1044h0M853.6 1047.5h0M847.8 1051.4h0M850.4 1054.9h0M847.1 1054.6h0M846.9 1057.1h0M845.6 1061.6h0M845.4 1066.1h0M845.6 1069.4h0M844.3 1070.1h0M842.5 1075.3h0M841.9 1074.2h0M840.1 1078h0M838.1 1084.7h0M838 1085.4h0M837.3 1090.1h0M836.3 1092.4h0M837 1095.1h0M840.3 1100.4h0M839.9 1099.8h0M841.1 1100.8h0M846.8 1106.3h0M844.8 1104.7h0M852.9 1112.4h0M853.5 1113.2h0M854 1115.2h0M858.5 1116.6h0M859.5 1117.2h0M863.6 1121.1h0M865.2 1121.8h0M865.8 1123.2h0M871.3 1124.2h0M872.2 1126.6h0M876.7 1127.5h0M881.3 1128.2h0M884.4 1126.4h0M887.7 1130.3h0M891.2 1130.7h0M894.3 1133.5h0M895.2 1133.1h0M898.8 1134.9h0M898.5 1134.9h0M903.3 1136.9h0M909.6 1137.9h0M910.6 1139.3h0M912.4 1141h0M916.9 1139.8h0M920.4 1143.1h0M920.7 1138.4h0M927.5 1143.8h0M930.7 1143.7h0M932.5 1146.7h0M934.9 1146.4h0M940.8 1148.8h0M940.4 1147.9h0M943.6 1148.6h0M947.4 1145.8h0M947.9 1147.2h0M952.8 1150h0M954.7 1152.9h0M959.6 1151.4h0M965 1153.8h0M967.6 1155.8h0M968.6 1156.5h0M970.4 1156.8h0M971.7 1157.5h0M974.8 1160.7h0M980.5 1161.3h0M982.9 1162.2h0M986.6 1163.5h0M990.7 1165.6h0M992.3 1167h0M997 1168.1h0M996.5 1170.1h0M999.2 1170.4h0M1002.3 1175h0M1006.3 1180h0M1005 1179.5h0M1008.7 1182.5h0M1011.8 1183.6h0M1011.2 1187.6h0M1014.3 1187.6h0M1016.5 1192.5h0M1018.3 1190.5h0M1023.6 1196.3h0M1024.7 1198.1h0M1027.7 1199.8h0M1029.2 1198.5h0M1033.6 1204.3h0M1032.8 1203.5h0M1037.9 1203.6h0M1039.7 1205.4h0M1042.5 1206.8h0M1045.8 1209.3h0M1048.7 1208.3h0M1053.9 1210h0M1057.3 1211.3h0M1056 1213.5h0M1060.1 1213.9h0M1063.7 1211.6h0M1065.2 1215.2h0M1072.8 1215.6h0M1074.9 1217.9h0M1074.8 1216.1h0M1080.3 1218.2h0M1082.5 1218.4h0M1087.2 1219.8h0M1087.4 1220.9h0M1093.7 1224.3h0M1091.2 1220.8h0M1098.4 1224.1h0M1099.4 1222.2h0M1105.2 1223.7h0M1108.1 1225.9h0M1111.1 1226.4h0M1113.9 1228.2h0M1115.4 1232.4h0M1121.7 1230.8h0M1124.3 1230.3h0M1127.2 1233.1h0M1130.9 1232.5h0M1131.3 1230.7h0M1132.6 1231.9h0M1136.1 1234.7h0M1141.4 1232.3h0M1145 1231.4h0M1150.9 1231.5h0M1153.6 1229.8h0M1155.6 1228.7h0M1156.5 1228.6h0M1160.3 1226.8h0M1165 1228h0M1165.9 1225.9h0M1166.5 1226.3h0M1174.8 1222.4h0M1175.3 1224.6h0M1175.8 1219h0M1176.5 1215.8h0M1176.1 1212.8h0M1176.7 1210.9h0M1177 1208.4h0M1178.1 1203.7h0M1176.5 1197.7h0M1176.8 1198.4h0M1180.1 1194.3h0M1181.3 1192.7h0M1185.6 1193.7h0M1185.8 1188.2h0M1301 953.3h0M1303.9 953.3h0M1309.4 955.5h0M1309.6 956h0M1313.2 956.8h0M1309.6 963h0M1308.7 963.6h0M1307.2 967.2h0M1304.8 966.6h0M1303.9 968.4h0M1298.4 969.6h0M1296.5 970.1h0M1291.2 968.2h0M1290.4 966.5h0M1287.7 962.8h0M1286 962.1h0M1288.9 959.2h0M1292.7 958.6h0M1293.4 956.2h0M1295.5 955.2h0M1299.8 952.1h0M1217.3 1150.4h0M1214.3 1149.4h0M1212.3 1144.9h0M1210.2 1141.7h0M1214.6 1139.1h0M1209.3 1134.4h0M1212.5 1133.1h0M1211.5 1131.9h0M1214.6 1131.9h0M1218.6 1128.9h0M1218.1 1128.3h0M1225.8 1131.8h0M1230 1130.1h0M1230.9 1131.4h0M1233.3 1133.9h0M1239.4 1134.5h0M1239.2 1133.3h0M1244.4 1133.7h0M1247.3 1136.6h0M1246.6 1138.8h0M1248.3 1143.7h0M1242.8 1145.9h0M1241.6 1146h0M1235.7 1148.3h0M1234.7 1149h0M1230.3 1151.6h0M1230.1 1149.9h0M1225.1 1150.5h0M1221.7 1149.3h0M1220.7 1151.4h0M1236.2 980.3h0M1238.8 982h0M1238.1 986.2h0M1236.8 987.3h0M1239.1 991.5h0M1239.3 995.2h0M1237.7 998.7h0M1236.4 999h0M1233.3 998.4h0M1229.7 1001.6h0M1228.5 1000.7h0M1224.9 999.9h0M1221.6 995.4h0M1224.9 994.4h0M1221.4 990.1h0M1222 986.1h0M1225.6 981.6h0M1225.5 980.6h0M1232.2 980.2h0M1231.8 981.2h0M1191 987.6h0M1189.7 986.1h0M1196.1 985.3h0M1200.3 986.6h0M1204 983.8h0M1203.2 983.6h0M1209.9 984.3h0M1213.5 985.1h0M1213.1 991.3h0M1214.3 990.3h0M1216.8 995.2h0M1216.3 998.3h0M1216.4 1000.3h0M1213.8 1004h0M1213.8 1003.8h0M1210.9 1005.8h0M1210.9 1004.1h0M1202.4 1007.8h0M1201.6 1007.5h0M1197.7 1008.1h0M1197.3 1005.4h0M1195.9 1001h0M1193.9 995.1h0M1194.1 996.1h0M1191 990.5h0M1205.3 1146.9h0M1206.5 1147.6h0M1207.7 1153.3h0M1206 1155.5h0M1205.2 1158.3h0M1202.9 1161h0M1202.1 1161.9h0M1199.4 1165.5h0M1193.7 1160.1h0M1193.1 1158.8h0M1190 1156.7h0M1185.7 1153.5h0M1185.6 1150.6h0M1190.2 1148h0M1192.8 1149h0M1198 1148.1h0M1202.4 1148.5h0M1205.3 1146.5h0M1198.8 1110.3h0M1202 1111.3h0M1199.4 1113.8h0M1201.2 1116.6h0M1203.5 1119.7h0M1203.6 1122.7h0M1205.6 1127.7h0M1204.4 1126.5h0M1197.8 1129.6h0M1198 1131.9h0M1195.7 1134.4h0M1189.7 1135.1h0M1186.5 1137h0M1185.1 1134.1h0M1181.1 1130.2h0M1184.8 1126.4h0M1180.5 1126.1h0M1180.5 1121.7h0M1177.9 1117.2h0M1180.8 1117.4h0M1182 1113.8h0M1185.7 1114h0M1187.3 1114.2h0M1190.7 1112.6h0M1194.5 1111.3h0M1082.3 1122h0M1084.2 1116h0M1087.4 1112.9h0M1088.2 1113h0M1085.3 1107.2h0M1085.3 1106.2h0M1083.6 1104.1h0M1080.9 1100.5h0M1083.2 1096.3h0M1081.5 1093h0M1081.1 1090.2h0M1081.6 1086.8h0M1084.4 1086.7h0M1091.5 1085.7h0M1090.6 1085h0M1093.9 1083.5h0M1098.1 1081.7h0M1102.1 1084.4h0M1104 1083.9h0M1106 1083.5h0M1111.6 1083.9h0M1114.1 1084.4h0M1115.2 1086.7h0M1120.1 1085.8h0M1120.6 1085.3h0M1125.3 1084.4h0M1129.9 1083.2h0M1130 1085.3h0M1136.8 1083.1h0M1140.9 1088.1h0M1140.2 1087.4h0M1143.8 1087.2h0M1147.9 1090.1h0M1151 1092.4h0M1151.8 1095.4h0M1153.5 1095.6h0M1155.7 1099.4h0M1154.6 1101.9h0M1151.3 1105.5h0M1150.3 1106.1h0M1147.1 1110.2h0M1146 1110h0M1141.6 1110.9h0M1139.1 1112.7h0M1138.3 1113h0M1131.2 1111.7h0M1131.7 1114.1h0M1127.9 1117.9h0M1125.7 1118.3h0M1121.3 1118.9h0M1118 1120.5h0M1117.1 1124.4h0M1115.4 1123.2h0M1110.2 1125.7h0M1108.6 1129.4h0M1105.6 1129.9h0M1100.2 1131.3h0M1098 1132.7h0M1095.9 1132.6h0M1092.3 1133.9h0M1088.6 1129.3h0M1088.8 1128.4h0M1085 1122.8h0M1087.4 1123.3h0M1024.6 1116.6h0M1028.2 1118.5h0M1031.2 1121.5h0M1029.5 1123.8h0M1032.5 1127.2h0M1035.5 1129.9h0M1030.1 1131h0M1024.5 1133.1h0M1021.8 1133.5h0M1019.4 1131.9h0M1018.1 1130.7h0M1014.4 1128.8h0M1011.4 1124.5h0M1011.3 1120.1h0M1011.4 1118.9h0M1009.5 1115h0M1012.1 1115.6h0M1017.5 1115.1h0M1017.8 1117.1h0M1023.1 1119h0M988.4 1125.3h0M984.7 1123.1h0M983.7 1121.6h0M980.5 1123.1h0M976.8 1119.6h0M974.4 1118.3h0M970.9 1116.3h0M969 1115.1h0M969.1 1112.8h0M965.9 1109.9h0M969.4 1109.2h0M972.4 1105h0M975.9 1105.6h0M978.5 1105.7h0M980.6 1103.8h0M984.5 1104.7h0M987.5 1106h0M991.8 1105.9h0M993.9 1108.9h0M997.5 1107.9h0M999.7 1112h0M999.2 1111.8h0M1002 1117.8h0M1004.8 1121.6h0M1000.3 1125h0M999.5 1122.1h0M993.7 1125.1h0M991.1 1125.2h0M912.7 1065.5h0M912.8 1064.4h0M907.5 1067.3h0M904.5 1069h0M900.1 1069.8h0M900.7 1068.9h0M895.7 1064.1h0M894.7 1064.4h0M894.1 1062h0M890.8 1056.4h0M893.1 1055.3h0M895.8 1053.8h0M897.1 1052.7h0M904.7 1051.5h0M907 1051.7h0M906.4 1052.1h0M912.8 1051.3h0M911.4 1049.2h0M915.1 1058.5h0M914.9 1061h0M884.9 1062.9h0M888.1 1066.8h0M888.1 1065.5h0M890.6 1072.8h0M891.1 1071.9h0M889.1 1076.9h0M888 1080.1h0M888.4 1083h0M883.8 1082.6h0M880 1082.2h0M877.6 1080.7h0M878 1078.5h0M874.2 1073.8h0M871.1 1071.1h0M876.8 1071.1h0M875.3 1066.9h0M874.8 1062.9h0M881.5 1064.1h0M882.7 1063.8h0M1112.5 1098.8h0M1125 1100h0M1107.5 1106.2h0M1097.5 1120h0M1140 1098.8h0M828.8 1054.5h0M960 1157.5h0M1190 1212h0M1247.5 880h0M1270 926.2h0M1276.2 928.8h0M1198.8 923.8h0M1192.5 932.5h0M1195 938.8h0M1310 1008.8h0M1290 1020h0M1286.2 1022.5h0M1355 959.5h0M1370 951.2h0M1373.8 942h0M1366.2 901.8h0M1381.2 900.8h0M1372.3 933.4h0M1374.6 934.2h0M1376.1 931.4h0M1382.6 929.7h0M1383.3 933.7h0M1383.6 928.4h0M1384.7 928.7h0M1389.5 928.2h0M1392.2 929.7h0M1394.7 927.1h0M1393.3 926.9h0M1398.1 928.8h0M1400.1 927.4h0M1404.6 925h0M1405.3 925.3h0M1406 923.3h0M1407.2 924.6h0M1408.4 928.7h0M1412.1 929.7h0M1413.9 932h0M1414.6 929.3h0M1418.3 932.6h0M1386.8 943.1h0M1386.2 944.8h0M1393.1 942.9h0M1390.5 943.7h0M1399 940.3h0M1397.4 940.6h0M1403.6 940.1h0M1402.2 937.7h0M1405.4 940.6h0M1409.5 939.6h0M1409.6 936.5h0M1376.5 885.9h0M1381.9 888.1h0M1383.1 889.7h0M1388.5 892.8h0M1387.5 893.4h0M1390.1 895.2h0M1393.6 899h0M1394.8 901.5h0M1399.4 899.9h0M1401.8 903.7h0M1405.7 903.1h0M1404.9 908.3h0M1409.4 907.8h0M1409.8 912.5h0M1412.8 911.4h0M1416.7 915h0M1421.4 917.3h0M1421.4 918.9h0M1421.6 919.6h0M1424.2 921.7h0M1429.3 925.3h0M1432.2 924.4h0M1433.8 926.3h0M1440.2 927.1h0M1436.6 931.6h0M1442.5 932.4h0M1444.8 934.6h0M1449.3 936.9h0M1453.6 937.5h0M1455 935.6h0M1461.7 938.2h0M1457.7 938h0M1463.4 938.5h0M1468.2 939.5h0M1469.1 940h0M1473.4 940.2h0M1475.5 938.2h0M1479.3 937.6h0M1483.3 938h0M1483.2 934.9h0M1486.9 939.7h0M1490.4 942.4h0M1489.3 943.3h0M1487.6 946.9h0M1488 952.2h0M1490.3 954.5h0M1488.2 959.7h0M1486.8 958.1h0M1483.6 963.8h0M1484.1 964.2h0M1482.5 971.2h0M1479.6 971.8h0M1479.4 975.9h0M1478.8 979.2h0M1480.5 982.2h0M1479.3 982.6h0M1476.5 987.4h0M1475.7 991.5h0M1474.9 993.4h0M1472.4 997.5h0M1472.9 1001.2h0M1474 1000.7h0M1477 1004.8h0M1479.1 1004.9h0M1482.5 1008.2h0M1489 1010h0M1486.2 1011.8h0M1493.2 1009.6h0M1496.8 1011.2h0M1497.8 1013h0M1499.3 1013h0M1504.2 1015.6h0M1508.9 1012.8h0M1508.5 1015h0M1512.7 1013.2h0M1517.3 1014.5h0M1518.7 1011.9h0M1522.2 1010.6h0M1523.4 1008.3h0M1527.7 1004.5h0M1529.6 1001.5h0M1528.6 1000.1h0M1530.7 999.2h0M1535.8 992.8h0M1534.6 990.9h0M1535.8 988.6h0M1538.2 985.6h0M1543.9 984.4h0M1543.1 982.1h0M1546.2 980.5h0M1547.8 976.6h0M1551.3 975.7h0M1552.4 972.4h0M1554.3 967.3h0M1554.6 963.9h0M1555.7 963.2h0M1561.9 961.3h0M1560.8 959.4h0M1561.1 957.3h0M1557 952.7h0M1555.1 951.9h0M1550.3 948.8h0M1551.5 947.6h0M1549.9 945h0M1547.7 945h0M1547.2 937h0M1544.5 938.2h0M1543.6 934.1h0M1539.4 932.4h0M1534.6 931.5h0M1531.7 928.3h0M1531.4 928.3h0M1532.5 925h0M1529.6 923h0M1530.2 915.4h0M1527.4 915.3h0M1527.2 913.2h0M1528 908h0M1528.8 906.9h0M1528.5 902h0M1529.2 899.2h0M1528.3 895.5h0M1528.1 894.9h0M1529.2 889.2h0M1530.3 888.3h0M1530.9 882.5h0M1532.7 881.8h0M1533.4 880.1h0M1538.6 877.1h0M1541.2 874.1h0M1541.5 871.9h0M1541.2 871h0M1540.2 869.5h0M1538 872.7h0M1536.6 870.8h0M1532.5 872.3h0M1527.8 874.7h0M1525.7 874.8h0M1520.6 879.3h0M1518.7 880.3h0M1515.6 878h0M1515.4 879h0M1509 880h0M1508.4 879.6h0M1504.4 880.2h0M1499.9 882.3h0M1498.6 881.3h0M1495.6 878.8h0M1490.7 879.8h0M1490.5 878.3h0M1486.7 878.2h0M1485 879.9h0M1481 884.3h0M1477.7 887.1h0M1477.2 889.2h0M1474.6 889.6h0M1472.9 893.4h0M1469.4 893.2h0M1466.5 895.8h0M1464.8 895.3h0M1460.5 896.5h0M1458.5 892.7h0M1457.4 892.1h0M1450.8 890.9h0M1449.3 890.9h0M1447.8 890.6h0M1442.1 888.1h0M1438.4 888.9h0M1436.8 890h0M1430.5 889.2h0M1431.2 892.1h0M1428.8 892.1h0M1422.4 889.6h0M1420.1 890.8h0M1416.3 890.7h0M1414.4 892.2h0M1409.5 891.6h0M1409.1 889.9h0M1406.8 888.8h0M1404 886.7h0M1399.1 885.2h0M1399.9 883.3h0M1400.1 881.2h0M1398.1 878.2h0M1396.6 876.6h0M1391.5 877.1h0M1388.2 880.3h0M1384.4 882.3h0M1382 882.2h0M1380.1 881.7h0M1378.9 886.1h0M1393.3 906.8h0M1393.3 906.8h0M1393.4 906.6h0M1450 986.2h0M1463.8 992h0M1407.5 873h0M1335 861.2h0M1330 848.8h0M1325 840h0M1448.1 713.1h0M1453.1 717h0M1454 718.9h0M1457 718.6h0M1461.4 722.6h0M1462.3 722.2h0M1465.7 721.9h0M1469.2 723.8h0M1472.7 724.4h0M1472.8 728.5h0M1471.5 734.7h0M1469.7 734.1h0M1470.9 738.4h0M1469.6 741.9h0M1471.4 742.6h0M1473.3 747.5h0M1475 749.2h0M1480.8 748.6h0M1480.3 753.3h0M1479.1 758.4h0M1477.3 759.7h0M1476.1 758.3h0M1470.8 761.5h0M1469.6 764h0M1467.5 766.1h0M1465.5 769.6h0M1464.3 771.6h0M1462.1 775.7h0M1461.5 776.8h0M1456.4 780.7h0M1457.8 784.6h0M1458.4 787.4h0M1457.3 790.9h0M1454.9 792.4h0M1453.8 795.8h0M1454.8 801.1h0M1454.9 801.5h0M1457.3 803.5h0M1456.5 802.7h0M1459 801h0M1464.4 798.3h0M1467.3 795.4h0M1470.3 796.8h0M1472.3 790.2h0M1474.3 790.5h0M1475.4 789.8h0M1477.9 788h0M1483 784.8h0M1482.9 782.9h0M1487.2 783.1h0M1490.5 778.4h0M1493.5 775h0M1493.3 775.9h0M1496.1 773.2h0M1498.8 769.3h0M1498.6 767.5h0M1502.4 762.5h0M1503.9 763h0M1505.5 763.5h0M1509.1 762.4h0M1513.9 767.2h0M1518 766.7h0M1519.8 768.7h0M1523.5 767.7h0M1526.2 768h0M1524.5 770.3h0M1531.6 774h0M1537.4 773.4h0M1538.6 773.3h0M1538.2 776.8h0M1544.2 775.8h0M1544.5 778.3h0M1549.3 777.7h0M1550.1 780.2h0M1555.3 777.4h0M1557.4 775.5h0M1561.1 773h0M1565.1 772.7h0M1567.5 770.2h0M1566.5 769.7h0M1571.3 769.5h0M1578.2 768.2h0M1582.3 765.1h0M1582.3 765.5h0M1586.4 764.9h0M1585.6 761.9h0M1588.4 761.3h0M1590.9 756.8h0M1593.6 755.5h0M1597 755.3h0M1598.2 749.7h0M1599.4 749.2h0M1603.5 747.4h0M1603.1 745h0M1606.6 740.4h0M1606.9 739.2h0M1604.4 732.9h0M1603.6 731.7h0M1602.7 731.9h0M1597.1 726.4h0M1593.6 724.7h0M1593.5 721.1h0M1592 719.4h0M1588.9 717.9h0M1586.5 713.3h0M1586.5 711.7h0M1587.1 711.5h0M1587.3 707.3h0M1583.2 698.3h0M1584.4 701.5h0M1581 700.3h0M1575.9 698h0M1577.8 695.5h0M1574.5 695.8h0M1570.9 698.6h0M1566.2 696.9h0M1563.1 696.8h0M1559.5 697.1h0M1557.7 693.7h0M1552.8 690h0M1551.6 691.9h0M1550.5 692.5h0M1546.3 694.6h0M1543.6 694.5h0M1540 692.3h0M1536.7 697.3h0M1532.9 696.7h0M1528 696.9h0M1526.6 697.7h0M1521.3 699.1h0M1519.5 698.3h0M1516.2 698.3h0M1513.8 698.8h0M1512.8 699.3h0M1508.9 698.3h0M1506 701.2h0M1498.7 702.5h0M1496.7 700.2h0M1495.9 702.3h0M1492 702.1h0M1488.3 705.8h0M1484.7 706.1h0M1483.3 706.8h0M1477.7 708.3h0M1474.1 707.9h0M1472.1 711.3h0M1470.2 710.5h0M1467.7 710.8h0M1462.8 709.3h0M1461.5 709.1h0M1454.6 709.4h0M1451.4 712.3h0M1449.5 713.7h0M1485 803.8h0M1512.5 786.2h0M1490 787.5h0M1492.5 796.2h0M1500 790h0M1505 788.8h0M1487.5 785h0M1515 777.5h0M1511.2 775h0M1306.7 760.1h0M1308.8 762.9h0M1314.7 764h0M1316.5 765.2h0M1315.6 771.3h0M1311.9 775.8h0M1311.8 776.3h0M1311.9 780.2h0M1310.5 779.8h0M1307.7 784.5h0M1303.9 783.2h0M1301.6 785.7h0M1299.5 787.3h0M1302.2 791.1h0M1300.3 794.7h0M1300.8 796.4h0M1302.8 799.7h0M1301.5 801.8h0M1304.6 807.6h0M1304.8 808.8h0M1305.9 809.9h0M1307.2 813.4h0M1307.1 817.2h0M1311 818.8h0M1314.3 822.2h0M1315.9 822.6h0M1318.4 826h0M1321.9 823.6h0M1325.3 825h0M1330.1 822.4h0M1333.6 826h0M1336.9 824h0M1337.2 825.3h0M1338.4 826.2h0M1341.5 830.1h0M1343.2 831.1h0M1345.1 832.3h0M1352.9 834.4h0M1352.9 833.9h0M1354.8 835.6h0M1358.7 832.4h0M1361.2 829.8h0M1363.6 824.6h0M1363.6 823.1h0M1365.1 825h0M1371.7 822.3h0M1372.4 821.4h0M1373 818.3h0M1377.8 819.2h0M1381.6 817.7h0M1386.4 817.9h0M1388.5 817h0M1390.6 815.9h0M1392.3 809.7h0M1393.8 810.5h0M1394 805h0M1398.6 804.6h0M1394.3 803h0M1389.9 796.6h0M1388.6 795.2h0M1387.3 795.9h0M1387.9 789.9h0M1386.6 790.3h0M1388.4 785.1h0M1391 782.4h0M1392.9 782.2h0M1393.2 780.4h0M1400.1 777h0M1398.4 777.5h0M1392.1 780.4h0M1389.9 779.8h0M1385.9 781.7h0M1383.4 783h0M1381.3 783.6h0M1379.6 785h0M1374.9 785h0M1373.6 784.2h0M1371.8 780.6h0M1367.6 784.7h0M1361.1 784.5h0M1360 783.3h0M1356.6 783.6h0M1355 784.4h0M1350.5 777.9h0M1348.1 777.9h0M1346.8 773.8h0M1345.1 774.4h0M1345.1 771.3h0M1340.3 768.3h0M1338 769.3h0M1334.1 771.2h0M1334.2 768.7h0M1330.1 769.1h0M1323.4 771.7h0M1320.4 770.8h0M1320 772.2h0M1317.1 764.9h0M1314.9 760h0M1314 760.4h0M1310.3 758.6h0M1307.2 760h0M1404.8 777.7h0M1404.3 777.2h0M1405.2 777.7h0M1345 833.1h0M1345.5 835.3h0M1350.8 833.9h0M1356.5 831.6h0M1347.9 836.2h0M1352.1 833.8h0M1355.3 842.4h0M1351.6 845.2h0M1354.2 840.8h0M1353.5 836.7h0M1353.5 839.4h0M1351.9 848.7h0M1356.5 848h0M1357.9 839.2h0M1356.8 849.1h0M1354.6 845.4h0M1358.5 846.6h0M1357.2 853.9h0M1360.3 854.8h0M1358.2 850.5h0M1360.6 852.5h0M1359.3 853h0M1360 857.6h0M1359.3 853.8h0M1362.6 854.7h0M1358.2 857.4h0M1364.2 858h0M1361.8 861h0M1363.5 864.4h0M1364.8 861.3h0M1367.2 864.5h0M1369.5 864.8h0M1365.2 867h0M1368.5 867.2h0M1369.9 869.2h0M1369.1 866.9h0M1365.6 869.1h0M1367.5 872.9h0M1369 869.2h0M1367.9 869.5h0M1371.4 872h0M1370.4 873h0M1374.2 873h0M1371.9 873.3h0M1375.4 876.6h0M1370.2 873h0M1378.6 876.8h0M1376.5 877.7h0M1379.8 878.3h0M1374.3 875.7h0M1383.7 877.8h0M1380.5 879.7h0M1381.8 878.7h0M1380.9 873.3h0M1386.8 883.8h0M1384.1 884.4h0M1386.7 882.5h0M1384.8 877.3h0M1381.9 887.3h0M1388 887.4h0M1383.8 880.2h0M1387.7 884.5h0M1388.8 886h0M1390 879.3h0M1392.3 885h0M1395.6 885.7h0M1396.2 891.6h0M1391.7 886.1h0M1395.7 897.3h0M1398.6 891.4h0M1398.6 890.3h0M1400.7 893.1h0M1395 887.1h0M1393.6 888.2h0M1396.2 890.7h0M1396.7 892.8h0M1403.9 888.7h0M1407.2 890.4h0M1411.9 898.1h0M1411 901.1h0M1413.8 901.3h0M1411.3 897.8h0M1408.6 898.6h0M1419.2 775.5h0M1401.8 790.8h0M1314.2 831.2h0M1324.5 840.8h0M1328.8 847.5h0M1332.5 851.2h0M1336.2 861.8h0M1397.5 872.5h0M1407.5 872.5h0M1366.2 902h0M1381.2 900.8h0M1375 886.2h0M1323.8 817.3h0M1319.8 815.2h0M1317.8 820.2h0M1319.6 821.8h0M1323.5 826.1h0M1325.2 826.3h0M1325.2 829.4h0M1330.9 831.9h0M1335.1 831.9h0M1335.5 832.5h0M1338.1 837.3h0M1342.3 839.4h0M1343.7 839.3h0M1345.4 839.7h0M1349.7 845.9h0M1349.5 847.4h0M1352.9 850.3h0M1355.1 851.8h0M1354.7 854.4h0M1358.2 859.7h0M1359.1 857.4h0M1359.6 860.9h0M1364.6 863.2h0M1366.1 869.5h0M1367.4 869.7h0M1370.5 872.3h0M1373.3 874.4h0M1376.3 877.2h0M1376.4 879.9h0M1378.3 882.1h0M1382.3 883.9h0M1384.7 880.3h0M1384.5 882.1h0M1380.8 878.7h0M1380.8 873.7h0M1377.9 875.3h0M1375.6 868.1h0M1373.3 869.6h0M1369.3 866.8h0M1367.9 860.4h0M1367.6 862.7h0M1365.5 860.5h0M1363.5 858.3h0M1363.4 852.8h0M1361 853.1h0M1360.2 847.8h0M1356.4 845.7h0M1353.8 843.8h0M1354.1 840.4h0M1352.2 837h0M1348.7 833.7h0M1347.7 829.2h0M1346.8 831.7h0M1344.9 827.1h0M1340.4 823.8h0M1338.3 822.3h0M1335.5 820.1h0M1335.4 821h0M1331.2 817.6h0M1329.7 816.1h0M1325.7 813h0M1696.7 899h0M1702.8 902.9h0M1703.9 902.6h0M1707.1 905.9h0M1708.3 906.2h0M1711.2 908.4h0M1714.4 910.2h0M1719.2 913h0M1724.5 913.1h0M1723.7 914.1h0M1726.3 917h0M1726.5 916.6h0M1733.9 923.1h0M1732.7 923.9h0M1736.7 922.1h0M1736.1 927.3h0M1737.5 917.8h0M1736.9 917.6h0M1734 916.9h0M1729.5 913.1h0M1728.2 912.9h0M1728.7 909h0M1727.9 904.9h0M1725.3 904.7h0M1724.4 897.1h0M1718.2 897.7h0M1720.2 897.4h0M1714.2 900.1h0M1710.7 898.1h0M1707.7 895.6h0M1706.5 893.3h0M1698.8 897.8h0M1701.4 896.8h0M1697 911.2h0M1361.2 613.6h0M1367.5 614.8h0M1367.8 614.8h0M1364.8 614.7h0M1358.6 613h0M1373.6 620h0M1377.5 625.5h0M1390 616.2h0M1395 623h0M1389.2 628h0M1385 635h0M1387 632.5h0M1406.2 639.5h0M1407.2 618h0M1407.6 620.1h0M1409.8 624.5h0M1410.2 627.3h0M1414 625.9h0M1412.4 623.3h0M1411.6 619.6h0M1407.4 616.9h0M1402.2 614.2h0M1073.5 265.9h0M1074.2 271.3h0M1079.9 277.3h0M1080.3 281h0M1081.6 280.1h0M1084 282.6h0M1085.9 280.2h0M1089.2 284.2h0M1091.1 282.1h0M1095.5 282.8h0M1094 282.1h0M1088.8 274.9h0M1091.4 273.1h0M1089.7 271.7h0M1085.7 265.6h0M1085.9 267.2h0M1080 264.2h0M1080.4 263.4h0M1075.3 265.4h0M1074 268.2h0M1137 213.4h0M1134.7 214.5h0M1131.3 218.8h0M1128.9 219.4h0M1125.4 222.2h0M1124.3 223.7h0M1125 224.9h0M1121 226.8h0M1116.9 230.8h0M1114.7 233.5h0M1112.4 232.3h0M1111.7 237.1h0M1107.9 237.7h0M1105.8 241.6h0M1104.5 244.2h0M1102 244.2h0M1098.5 246.8h0M1094.8 250.3h0M1096 251.5h0M1093 254.2h0M1089.5 257h0M1089.4 258.5h0M1085.4 264.2h0M1085.5 263.8h0M1086.9 266.6h0M1091.1 262h0M1093.6 258h0M1094.9 255.5h0M1097.5 256.2h0M1101.6 252.1h0M1103.2 250.2h0M1103 248.8h0M1107 243.5h0M1109.4 241.6h0M1109.7 242.1h0M1114.5 237.6h0M1115.9 239.6h0M1118 234.7h0M1121.1 232.3h0M1123.5 230.7h0M1125.2 229h0M1125 227.1h0M1130.9 226.3h0M1132.6 221.1h0M1135.6 220.7h0M1137.7 219.4h0M1140.9 217.7h0M1140 213.1h0M1135.5 214.8h0M1136.8 218.4h0M1141.5 220.8h0M1143.3 218.8h0M1143.2 219.9h0M1150.6 218.5h0M1149.9 217h0M1156.6 220.4h0M1157.5 219.5h0M1160.4 219.9h0M1166.7 218.4h0M1160.5 216.3h0M1163.1 213.8h0M1157.8 210.6h0M1155.9 207.7h0M1154 205.7h0M1148.6 206.1h0M1146.2 206.5h0M1145.9 208.9h0M1142.7 210.4h0M1141.2 210.9h0M1134.9 213.6h0M1173.8 215.5h0M1178.8 220h0M1175 213.8h0M1180 217.5h0M1170 217h0M1176.2 221.2h0M1171.2 213.8h0M1162.7 234.9h0M1161.4 234.7h0M1160.3 236.5h0M1155.6 237.4h0M1157.9 239.3h0M1160.9 241.4h0M1157.3 245.4h0M1155.2 245.2h0M1155.9 249.1h0M1158.9 249.8h0M1157.3 250h0M1158.7 252.2h0M1160.8 255.2h0M1163.8 257.7h0M1161.8 258.6h0M1161.9 269.1h0M1161.7 268.6h0M1166.6 272.4h0M1169.5 274.8h0M1169.1 277.5h0M1174.1 276.4h0M1174.1 279.6h0M1178.6 278h0M1182 279.3h0M1183.2 277.1h0M1182.2 273.6h0M1181 271.4h0M1178.3 268.6h0M1177.5 268.6h0M1173.9 267.7h0M1171 264h0M1166 264.8h0M1166.8 266.4h0M1190.5 276.7h0M1192.9 276.3h0M1194.1 277.2h0M1196.8 276.9h0M1199.4 278.6h0M1200.2 279.1h0M1202.4 278.7h0M1205 281.3h0M1207 280.8h0M1208.8 282.4h0M1211 282.2h0M1212.1 285.6h0M1213.8 284.6h0M1217.5 285.8h0M1216.9 286.4h0M1218.6 289h0M1221.5 289.6h0M1222.9 290.1h0M1223.1 291.7h0M1225.5 293.3h0M1158.8 275.9h0M1158 278.3h0M1157.6 276.5h0M1156.3 276.5h0M1153.2 275.5h0M1149.2 276.7h0M1151 276.7h0M1151.2 275.9h0M1147.5 277.4h0M1143.2 275.1h0M1141.1 275.7h0M1143.3 278.7h0M1140.2 275.7h0M1140.4 278.5h0M1137 276.6h0M1135.2 279.9h0M1134 279.8h0M1133.9 281.4h0M1133.8 284.4h0M1134.2 286.3h0M1129.5 284.3h0M1130.2 283.6h0M1127.2 287.8h0M1129.1 288h0M1125.4 290h0M1122.4 290.1h0M1125.5 292.1h0M1125.1 296.1h0M1122.2 293.1h0M1098.3 276.7h0M1100.9 279.9h0M1102.8 281.7h0M1104.9 282.5h0M1103.6 286.7h0M1104.5 284.8h0M1108.6 284.5h0M1106.2 288.2h0M1104.9 286.8h0M1108.3 290.6h0M1115.8 291.2h0M1111.3 294.5h0M1112.3 293h0M1115.1 295.9h0M1114 295.2h0M1116.2 295h0M1115 301.2h0M1117.5 305h0M1123.8 305h0M1115 308.8h0M1118.8 313.8h0M1122.5 250h0M1135 253.8h0M1122.5 258h0M1108.8 263.8h0M1100 270h0M1132.5 267.5h0M1137.5 271.2h0M1147.5 240.5h0M1131.2 272.5h0M876.9 309.4h0M883.2 314.7h0M883.8 314.5h0M886 319.2h0M888.5 320.7h0M889.1 321.4h0M891.3 319.4h0M895.2 321.2h0M895.8 318.9h0M902 322.4h0M906.1 322.2h0M905.4 323.7h0M912.2 325.3h0M910.9 325.8h0M911.4 322.8h0M911.4 318.3h0M910.5 317.7h0M907.2 314h0M911.1 309.7h0M914.3 307.9h0M911.2 305h0M911 303.2h0M910.2 301.1h0M905.4 304.4h0M900.6 304.5h0M897 302.3h0M895.4 300.3h0M893.2 302.2h0M886.4 301.8h0M886.8 303.1h0M881.2 301.3h0M881.5 302.1h0M878.2 310.9h0M877.2 308.9h0M887.1 328h0M911.2 339.2h0M928.8 216.2h0M935 215.5h0M927.5 222.5h0M927 228h0M933.8 222.5h0M593.3 459.9h0M594.5 464.4h0M595.6 467h0M596.9 467.6h0M598.7 468.9h0M603 467.5h0M604.5 467.4h0M608.4 462.3h0M609.6 460.8h0M610.9 456.6h0M612.6 453.9h0M613.5 451.5h0M611.6 451.9h0M608 453.2h0M605.5 453.5h0M603.4 455.1h0M601.1 454.1h0M598.7 455.2h0M593.9 461.6h0M620 449.3h0M627.5 452.5h0M629.5 455.5h0M618.8 454.5h0M642.1 440.5h0M644.6 440.6h0M644.7 445.8h0M648.8 447.5h0M646.7 446.2h0M657.4 448.6h0M657.4 444.6h0M663.3 447.1h0M664.2 447h0M667.6 448.7h0M670.4 444.7h0M665.5 443.6h0M665.3 442.3h0M661.6 441.4h0M657.4 436.4h0M654 436.4h0M652.7 435.2h0M649.5 438.3h0M642.1 438.3h0M762.5 489.4h0M763.4 492.2h0M768.3 494.8h0M771.8 494.2h0M776.5 495.5h0M772.6 497.7h0M776.8 498.5h0M783.7 502.2h0M780.5 500.7h0M788.1 506.2h0M786.2 509h0M787.7 502.7h0M784.9 503.1h0M784.1 500.9h0M781.7 499.9h0M781.6 496.7h0M773.4 495.6h0M772.1 492.5h0M768.5 491.3h0M767.8 490.9h0M766.4 491.3h0M761.8 488.6h0M797.5 502h0M770.8 504.2h0M763.2 492.6h0M756.8 493.1h0M758.2 495h0M755.2 498.3h0M754.7 498.3h0M755.5 504.6h0M753.6 506.6h0M753.1 504.9h0M749.2 506.3h0M752.1 508.9h0M749 511.5h0M747.7 513.9h0M746.4 512.2h0M746.3 515.7h0M742.7 516.9h0M745.1 518.7h0M741.5 521.4h0M740.1 521.8h0M740 524.6h0M737.3 523h0M744.5 526.8h0M739.8 529.3h0M739.6 530.8h0M735.9 531.6h0M736.4 531.2h0M733.5 532.1h0M733.1 535.7h0M729.7 536.2h0M726.6 536h0M722 537.3h0M725 538.1h0M722.5 539.7h0M721.6 539.3h0M718.5 543.8h0M715.8 544.1h0M702.3 551.7h0M705.2 552.7h0M706.4 557.4h0M709.1 559.3h0M709.5 560.5h0M715.8 557.6h0M717.7 554.7h0M719.1 551.8h0M721.3 552.2h0M726 548.8h0M727.6 545.6h0M726.8 544.9h0M717.3 543.3h0M718.7 543.5h0M716.3 545.6h0M711.1 548.1h0M710.5 546.6h0M708.1 547.7h0M702 544.6h0M701.7 551.3h0M730.7 542.2h0M503.6 664.5h0M509.1 669.9h0M507.7 670.5h0M511.5 662.3h0M513.3 662h0M513.8 657.8h0M513.9 654.6h0M516.9 650.5h0M513.6 650.7h0M522.5 649h0M524.6 647.1h0M524.7 645.1h0M523.3 644.4h0M519.7 646h0M517.9 647.2h0M510.5 649h0M510.8 650.9h0M509 655.2h0M509.7 655.2h0M506.4 659.5h0M506.7 662.3h0M504.9 673.8h0M533 637h0M526.2 655h0M520.8 661.2h0M1456 372.2h0M1455.3 365.7h0M1451.3 362.5h0M1452.7 359.8h0M1452.4 355.9h0M1451.7 353.8h0M1448 350.3h0M1444.2 350.5h0M1444.9 351.6h0M1440.7 349.8h0M1435.9 351.6h0M1435.4 353.5h0M1432 354.2h0M1428.9 355h0M1430 358.4h0M1427.3 366.5h0M1425 362.8h0M1424.5 367.7h0M1423.8 369.2h0M1430 375h0M1430.4 373.8h0M1431.5 376h0M1434.3 380.3h0M1438.1 378.6h0M1441.8 380.4h0M1444.2 381.8h0M1445.6 386.5h0M1447.7 384.2h0M1451.6 389.2h0M1452.4 388.9h0M1456.7 394.3h0M1455.7 393.3h0M1459.7 397.7h0M1462.7 402.3h0M1462.8 401h0M1465.5 404h0M1467.6 406.2h0M1470.8 409.8h0M1466.8 414.7h0M1464.8 412.9h0M1465 418.9h0M1467.7 423.8h0M1466.8 423.9h0M1467.9 425.9h0M1466.2 429.7h0M1466.5 434.8h0M1469 434.5h0M1471.7 433.9h0M1473.3 433h0M1476.1 431.8h0M1481.5 431h0M1483.3 428.6h0M1486.1 431.1h0M1489.5 433.8h0M1490 437.4h0M1489.3 437.7h0M1492.1 443h0M1493 445.8h0M1494.1 445.1h0M1494.5 449.8h0M1496.6 449.5h0M1502.4 445.6h0M1500.3 447.4h0M1501.4 443.8h0M1497.4 441.1h0M1497.6 437.6h0M1496.1 435.5h0M1494.3 432h0M1494.2 428.4h0M1492.7 427.9h0M1491.5 424.8h0M1489.5 421.8h0M1490.9 418.5h0M1490.5 415.3h0M1489.4 411.8h0M1488.7 409.1h0M1485.6 408.4h0M1484.8 406.8h0M1480.6 401.2h0M1479.5 401.9h0M1476.8 401.7h0M1476.6 399.2h0M1471.8 395.8h0M1467.2 392.3h0M1465.7 391.2h0M1464.6 387.1h0M1461.1 384.6h0M1459.8 384.6h0M1459.5 382.8h0M1456.7 377.1h0M1457.5 377.2h0M1453 373.3h0M1455.9 368.1h0M1486.2 452.4h0M1484.9 452.4h0M1480.7 450.2h0M1479.9 445.7h0M1477.7 445.7h0M1476.7 449.6h0M1472.4 449.9h0M1471.9 456.3h0M1473 456.4h0M1472.8 457.2h0M1477.2 457.8h0M1480.9 456.3h0M1484 452.1h0M1487.5 450.8h0M1437.5 395h0M1432.5 385h0M1462 374.2h0M1458.8 405h0M1462.5 415h0M1466.2 415h0M1461.2 439.2h0"/>
<path stroke="#fff" stroke-width="1.1" stroke-linejoin="round" d="M415.1 884.4l-0.2 0.8l-0.4 0.8M424.8 905.1l0.8 0.6l1.8 0M402.6 884.6l1.6 0.2l1.9 1.7M489 879.3l0.2 2.6l0.4 0.3M416.4 868.3l2.1 0.3l0.8 -0.1M515 910.7l-0.8 0.8l-1.1 0.2M511.6 897.9l0.9 0.8l1.8 0.6M500.2 926.1l-2.6 0.8l-0.5 0.8M476.6 868.8l0.3 0.4l0.8 -0M402.7 871.6l3.1 2.3l0.6 0.1M391.3 878l-1.3 0.9l-0.8 0.8M502.9 875.1l-0.7 0.7l-0 0M456.4 869.5l-1.9 1.4l0 0.5M489 893.6l-1.4 1l-2.6 -1M501.6 927.8l3.9 0.3l1.1 -0.7M466.4 886.6l-0.8 0.6l-0.5 2.5M455.7 895.9l0.9 0.8l0.6 2.6M452 873.8l0.2 1l0.3 1.9M437.8 925.3l0.9 3.9l0.3 2.1M585.5 761.7l-0.7 1l-1.3 2M664 839l-1.6 1.5l-2.7 0.9M647 842l0.7 0.9l-0.1 0.5M712 864l-1 0.8l0.1 1.5M860 666.7l-0 3.6l0.1 0.1M853.3 674.7l1 2.3l0.2 1.3M820 693.3l0.3 0.6l-0.3 0.8M1092.7 532l0.3 1.1l0.1 0.1M1064.6 540.2l-2.3 2.9l-1.2 0.8M1113.7 556.5l0.6 1.2l-0.1 2.4M1068.7 545.6l0.1 3.7l0.6 0.6M1096.4 559.6l-0.8 0.6l-0.9 0.3M1064.6 543.1l0.6 3.9l2.4 1.6M1109.8 542.6l-1.2 3.2l1.2 1.8M1117.2 564.5l0.4 0.3l1 -0.3M1112.3 547.4l-0.8 2.4l0.4 0.6M1058.7 551.7l-1.7 1.7l0.3 2.8M1071.1 534.9l0.9 2.3l-0.2 0.9M1116.2 536.3l-1.1 0.1l-0.9 -0.9M1113.8 599l-1.2 0.4l-1.8 2.1M1112.4 582.9l-3.7 0.2l-1.7 2.2M1082.3 624.4l1 1.8l1.1 0.7M1105.5 597.4l2.4 2.4l2.4 1.7M1083.1 614.3l-0.9 3l0.5 1M1090 623.5l0.1 0.9l-0.1 0.2M1101.6 595.2l-0.1 2.3l-1.7 1.1M1100.2 584.8l1.8 3.3l0.6 2.5M1011.5 522.2l1.2 3.3l0.4 0.1M954.3 508.1l2.6 0.2l0 -0M1043.6 587.1l-3.2 2.3l-0.1 0.5M1031.3 581.6l3.2 1.4l0.4 -0.2M980.7 581.9l0.1 2.4l-0.6 1.9M868.8 621.8l-0.7 0.8l0 0.2M928.3 545.3l-1 1.2l-0.9 0.8M907.8 654.7l3.4 1.1l2 1.9M872.3 608.9l1.9 2.7l0.1 1.1M873.4 623.7l0.8 0.6l1.7 2.4M862.2 593.5l-0.5 0.5l-0.6 0.1M900.3 602.9l-1.8 1.2l-0.1 0M1131.2 773.5l1 0l2 0.4M1073 767l-1.8 2.6l-0.6 0.1M1108.5 778.8l1 2.2l0.2 0.3M1034.6 773.5l-3.2 1.1l-0.2 0.3M1092.1 777.7l-0.1 1.5l-0.1 0.1M1131.7 775.4l-3 1.1l-1.6 0.4M1111.6 765.4l-0 0.7l-1.3 1.3M1075.5 784.5l0.9 2.9l0.5 1.1M1127.7 763.7l-0.7 0.4l-2.2 1.4M1087.3 773.5l-1.2 2l-1.4 0.4M1088.6 783.6l-0.1 0.9l0.8 0.7M1115.9 772.8l2.2 1l0.5 0.8M1110.9 768.8l2.3 1.5l1.1 1M1234.1 947.1l-2.2 1.7l-0.5 1.5M1001.1 1078.3l-0.3 0.8l-1 2M1040.2 1157.2l-3.7 0.1l-1.1 -0.8M861 1111.8l3.5 0.9l1.2 2.5M1026.5 1180.4l0.9 0.3l0.6 2.3M948.2 1124.7l-0.2 3.6l0.2 2.2M1100.7 1004.7l-1.1 3.4l-0.2 0.6M1035.7 1124.9l1.1 2.7l0.6 0.4M846.5 1062l-2.4 0.5l-1.1 1.1M1220.1 1096.5l-2.3 2.8l-1.2 2.5M1175.2 1056.5l0.9 1.7l-0.8 1.9M1223.9 1083.2l0.7 0.6l0.8 -0.1M1247.8 972.1l-0.2 3.2l1.3 1.7M1172.2 1119.2l0.5 1.5l-0.4 2.6M1124.1 1211.3l-0.8 0.4l-1.1 0.2M1051.8 1163l-0.6 3.3l-0.1 0.2M1250.6 1028.8l1.3 0.6l0.8 -0.1M1025.1 1088.7l0.5 2.8l0.2 0.1M1257.2 1081.8l1.4 1.5l-0 0.8M988 1142.9l0.9 1.6l0.8 2.2M1057 1171.9l-2.2 1.4l-0.9 -0M1151.8 972.4l-0.7 3.6l-0.2 0.4M1253.6 1093.1l0.5 0.2l1.5 0.8M1234.1 1057.6l-0.3 1.5l-1.8 1.7M1294.6 1072.5l-2.4 0.5l-0.7 -0.6M1339.1 939.5l-2.1 0.5l-1 1.8M1054.3 1207.1l-1.2 0.4l-2.1 0.4M1177.2 1174.1l1.8 1.9l2.5 -0.4M1173.2 958l2.3 0.7l0.7 1.4M942.9 1102.8l0.8 1.7l-1.4 2.5M1171.6 1170.6l1.7 2.8l1.9 0.8M1063.6 1122.6l3.5 1.6l0.7 1M959.1 1091.8l0.6 0l2 -1.3M1141.3 988.7l-1.4 0.1l-1 0.3M1240 1030.2l-0.2 3.1l1.8 1.6M1238.3 1101.2l0.9 0.8l-0.2 1.8M912.3 1093.9l-3.2 1.1l-0.7 -0M1132.8 1032.6l0.8 3.2l1.7 1.5M1126.3 1035.8l-1.8 1.6l0.2 2.2M1088.6 987.2l1.5 1.2l0.7 0.5M1132.8 1175.6l-0.5 0.4l-0.9 0.5M1181.4 993.1l0.2 1.7l-0.1 0.4M1215.9 1088.2l0.7 3.9l-0.1 0.9M1277.3 1129.7l-1.9 1.4l-1.5 1M1210.8 1041.8l-0.6 0.6l-2.9 -0.6M948.2 1147l0.4 0.9l-0.6 2.4M1309.3 951.1l-1.4 1.6l-0.1 0M1170.4 1121.9l-0.2 2.8l0 0.1M1015 1185.9l2.2 2.7l0.7 0.6M1195.6 974.4l1.2 0.3l1.7 1.3M1254.3 948.5l-0.9 3.2l0.1 0.2M914.9 1066.8l-0.5 0.4l-0.1 1.2M1241 1085.4l0.1 0.6l0.6 1.9M1072.8 1008l-1.3 0.1l-0.4 0.6M1223.1 1127.2l-2.9 1.7l-0.9 2.1M1121.5 1003.4l0.2 1.8l-0.3 1.3M859.4 1085.7l-1.6 0.6l-1.4 2.1M1306.4 1057.6l0.9 3.5l-0.5 2.7M1249.6 1069.9l-0.9 1.7l-1.1 1.8M1131.4 1022l-3.4 1.1l-2.3 0.5M852.3 1069.3l0.3 1.1l-0.1 0.8M1197.2 916.8l-0.7 0.1l-0 0M1518.7 992.5l2.1 1.3l1.8 1.7M1523.7 911.2l2.1 2.6l0.3 0.3M1427.4 914.3l-3.2 0.6l-0.2 0.3M1515.6 944.6l-1.2 3.7l-0 0M1552.5 701.2l-3.8 0.7l-1.9 -1.5M1512.5 751.2l-0.1 0.6l-2 1.8M1480 757.5l-1.9 0.6l-0.4 -0.1"/>
<path stroke="#fff" stroke-width="1.6" stroke-linejoin="round" d="M483.1 863.8l0.6 0.8l0.4 0.9M435.2 884.8l-0.3 2.5l0.4 0.8M486.8 923.3l1.1 1l-0 0M453.4 900.7l-1.3 0.1l-1.5 0.4M459.5 903l-2.4 2l-0.2 0.1M433.8 879.1l2.3 2.9l2.5 1.5M404.7 891.2l1.2 1.1l1.4 -0.3M478 898.4l0.4 1l2.3 0.5M417.6 910.2l0.5 0.8l1.9 1.7M391.6 893.7l2.7 0.7l1.7 -0.7M447.5 953.9l1.3 0.5l2.1 0.7M588.6 780.8l-2 0.7l-2.6 1.1M588.2 790l-0.5 1.6l-0.4 0.2M586 793.3l-2.2 0.3l-1.4 -1.5M585 765.1l2.3 0.6l2.5 -1.1M660 831l2.2 0.5l0.2 -0.1M693 856l-0.3 0.8l-1.7 1.3M740 830l-0.9 1.7l-1.1 2.1M857.3 660l-1.4 3.2l-0.3 1.3M866.7 670.7l-0.5 0.6l0.5 1.7M1054.3 534.3l-0.1 0.9l1.6 1.4M1040 545.2l0.8 3.3l0.6 1.9M1035.6 541.2l-0.6 0.7l-0.4 0.5M1054.2 544.5l-2.7 2.3l-1.7 1.9M1068.1 540.7l1 0.4l2.6 1M1058 565.9l-1.1 1.7l0.3 0.6M1069.8 570.7l-1.2 0.3l-0.1 0.3M1107.3 537.3l1.5 2.7l0.1 0.6M1030.2 540.4l2.8 2.3l2.2 1.2M1092.9 545.3l-0.4 4l0 0.8M1077.3 612.4l1.9 0.4l0.8 1M1089.3 604.5l-0.4 2.1l-0.2 0.1M1108.3 601.9l3.6 0.5l0.1 -0.1M1084.1 585.3l3.4 0.7l2.5 1.6M1116.3 585.6l-1.3 3.4l0.3 1M981 507.5l1 0.7l0.2 0.1M988.7 512.5l2.7 1.7l1.1 -0M1002.1 517.7l2.5 1l1.9 -0.9M998.2 585.4l3.6 1.4l0.8 -0.2M997 564.5l2.5 1.2l2.1 0.7M996 560.7l-0.1 2.2l-0.5 1.1M919.7 605.6l-1 1.6l0.9 2.8M921.1 561l-0.2 0.8l1 2M862 591.7l-0.5 0.4l-1 -0.2M864.2 554.1l-1.9 0.6l-0.3 0M921.8 589.9l0.2 0.6l-0.1 2.9M889.2 649.7l0.4 0.4l0.1 0.1M907.5 655.3l1.4 0.1l0.5 0.5M1061.8 768.1l0.9 2l1.4 0.6M1047.1 786l1.4 0.2l0.7 -0.5M1075.6 780.1l-0.8 0.5l-0.2 -0M967.3 1138.8l3.9 0.9l0.4 0.3M1019.5 1036l-0.6 1.5l-1.5 0.6M926.5 1091.7l0.6 0.2l0.6 -0.1M1132 1118.4l-1.7 0.2l-0.8 0.1M1159.3 986.2l-1.9 2.6l-1.8 1.2M1052.9 1161.8l1.1 2.4l-0.3 1.8M1242.7 1008.2l0.7 0.6l0.3 0.6M1092.4 1063.3l1 1l0.9 2.6M907 1044.5l-1.3 0.4l-2.7 0.6M1150.3 968.9l1.2 0.4l1 1.3M1052 1039.4l-1.7 1.7l-0 1.4M1303.3 1096l-1.9 0.2l-1.2 1.9M1050.1 1019.5l0.2 2.3l-0.4 0.9M1076.1 1138.5l-0.7 2.2l-0.8 2.7M1249.3 1145.8l-2 2l0 0M931.7 1046.8l-0.5 0.4l-0.2 0.3M1130.4 1056.5l-3.5 1l-2.3 -1.8M932.4 1047.7l2 1.5l0.3 1.3M1241.8 962.5l-0.5 1.2l1.4 2.5M1027.6 1182l0.9 0.1l0.4 -0.4M1224.4 1013.7l-0 3l0.2 0.5M1085.7 1196.6l1.2 0.3l2.6 0.8M1158 1050.6l2.1 2.6l0.8 1.9M878.9 1030.3l-0.1 1.5l0.4 0.4M1256.1 967l-0.5 1.3l0 0.2M1205.9 961.7l-1.3 0.5l-1.1 0.3M1260.4 1111.7l2.1 1.3l2.3 0.1M1240 963.8l-2.2 0.7l-0 0.1M1110.1 986.1l-1.4 0.2l-2.2 0.8M1230.2 933l2.8 1.6l0.2 0.3M1234 1003.3l-0.9 0l-2.4 -0.9M1183.1 1168.8l1.7 0.4l0.6 1.6M1117.8 980.8l0.3 0.5l0.5 2.1M1109.6 1135.4l-1.9 2.7l-0.3 2.8M1267.5 1014.6l0.4 0.3l3 -0M1050.9 1073.2l0.2 2.2l1 0.7M1151 1002.1l2.4 0.5l0.1 -0M859.1 1052.9l-0.7 0.2l-0.3 0.6M1333.9 980.5l0.9 0.6l1.3 0.5M1275.9 1122.5l-0.4 2.8l0.1 0.9M1066.9 1046l2.1 1.5l1.9 2.2M995.3 1159.7l1.6 2.6l0 0.3M1258.1 997.9l1.3 2.6l1 0.1M1102.1 1005.3l0.7 1.9l1.8 0.8M1247.8 1088.3l-0.3 0.8l-0.1 1.4M1120.7 1002.4l1.7 3l1.3 1.2M923 1092l-0.4 1.2l0 2.4M1105.5 1168.6l0.3 0.7l0.4 0.3M1153.5 1117.7l1 1.8l2.9 0.5M1158.4 1040.6l-1 1.6l-2.5 0.4M1527 925.4l-0.7 0.5l-0.6 2.4M1503.6 892.3l1.3 1.2l1.2 0.1M1531.3 993.9l0.9 0.2l1.2 -0.3M1445.2 922.6l2.4 0.7l1.5 1.6M1422.4 917.8l3.3 0.4l1 0.4M1508 963l2.8 0.1l0.3 0.1M1471.3 930.1l1.4 3.3l1.7 1.7M1453.2 928.5l0.7 3.3l0.1 0.5M1545 717.5l2.4 2.8l2 1.6M1553.8 703l-2.7 1.3l-1.2 2.2M1511.2 752.5l-2.8 1.8l-2.7 -1.2"/>
<path stroke="#fff" stroke-width="2.3" stroke-linejoin="round" d="M467 910.8l-1.8 1.8l-0.4 0.5M472.8 877.7l1.4 0.4l0.1 -0M507.3 870.6l-0.4 0.8l0 0M394.4 881.5l0.2 0.6l1.2 0.8M489.5 916.3l1.2 0.3l1.4 0.9M405.3 893.7l-3.2 0l-1.9 2.3M503.7 869.6l2.9 2.1l0.1 0.2M458.7 1002.1l0.6 0.9l2.2 1.7M405.4 946.8l-2.2 1.6l-0.1 0.9M858.7 685.3l0.3 1l1.2 1.3M1069.4 610.7l-0.9 2.3l1 1.9M1099.6 607.3l1.1 2.7l2.1 1.1M1084 593.5l2 0.1l1.8 -0.8M1063.7 619l1.3 1.1l0.2 0.4M942.6 509.6l3 2.5l2.7 0.3M1008.5 516.7l0.4 0.4l1 2.3M1000.9 562.2l0.1 2l0.7 0.6M873.9 609.3l0.7 1.9l-1 1.7M922.3 614.6l-0.4 2.5l0 0.2M875.7 632.3l-0.5 0.3l-1 0M904.3 602.1l0.2 2.4l-0.8 0.7M915.9 596.3l-0.3 1.3l-0.2 0.2M860.6 591.5l2.1 2.6l1.6 0.7M1154.2 768.9l-1.2 0.1l-0.4 -0.2M1103.2 774.1l-0.6 1.8l0.1 0.6M1046.8 766.9l-1.2 1.2l-0.6 0.6M1070.9 778.3l1.3 2.2l0.9 1.1M1301 1118.1l-0.6 1.4l-2 0.9M1111.7 1139.3l0.7 1l1.7 1.1M1103.6 1033.5l2 3.1l0.6 0.9M1198.5 1044l-1.6 2.3l-2 1.2M874.2 1029l0.9 2.2l-0 2M875.7 1029.6l1.8 1.2l0.4 0.1M1138 1076.9l-0.1 0.6l-0.1 0.3M1065.8 1188.3l-1 3.2l0.5 0.6M1253.5 996.2l-0.1 1.3l0.8 1.2M982.3 1126.6l-0.5 2l-0 0.8M1249.4 989.4l-1.7 2.1l0.1 0.7M1189.1 1100.9l-2.8 2.5l-1.1 0.2M978.1 1092.9l-2.4 0.4l-2 -1.3M923 1093.1l0.3 3.6l0.3 0.7M1149.8 963.8l-0.9 0.9l-0.1 1M1323.5 975.9l-1.6 0.3l-2.2 -1.2M1009.9 1071l-0.2 4l-0.5 0.9M1073.3 1129.1l-0.9 0.7l-1.9 0.9M1519.6 987.4l0.6 0l2.9 -0.4M1521.9 916.3l2.5 1.2l1.2 -0.1M1443.9 916.1l1.3 1.5l2.3 1.2M1577.5 720l-1.1 1l-1.9 0.7"/>
<path stroke="#fff" stroke-width="3.4" d="M410.6 890.9l1.4 1.8M419.8 905l-0.5 0.2M517.8 921.9l3 0.9M481.2 902.1l1.7 2.5M418.3 865.1l-0.1 0.7M468 877.5l-2.1 0M471.4 882.1l-1.5 2.6M477.2 894.3l0.6 2.3M489.3 877.9l-0.3 1.5M432.8 910.2l3 0.4M472.6 876.6l3.1 1M513 889l0.9 2.5M403.8 893l0.4 0.9M505.9 904.9l-2.6 0.2M1099.2 535.1l-1.3 1.9M1048.1 553.2l-0.8 0.1M1048.7 561.2l2 1.7M1119.5 544.8l0.8 0.7M1045 563.3l0.3 0.5M1028.1 542.7l1.6 1.4M1103 559.6l-0.8 0.3M1109.7 595.1l-2.8 0.5M1109 609.6l1 1.9M1077.6 599.4l0.3 3.2M1077.5 603.9l1.7 2.1M1097.8 596.4l0.9 1.7M1079.2 601.7l3.2 0.7M1094.6 593.5l0.8 2.1M1208.6 1015.2l1.9 1M1191.3 970.4l2.8 1.3M1256.4 965.5l2.9 1.7M1283.1 999.4l1.2 2.5M1232 1005l0.6 0.1M1182.2 962.6l-1.7 2M1207.6 1022.2l1.6 2.5M1180 988.4l0.8 0.3M1212.8 1016.5l0.5 0.9M1250.3 988.9l1.5 0.8M1062.4 1113.3l1.6 1.3M1060 1110.1l2.5 2.4M1007.7 1087.8l1.7 1.8M1064.1 1108.3l1.1 1M1051.3 1124.1l-0.4 0.5M1009.1 1135.5l-0.7 2.1M968 1141.8l-0.9 1.8M1053.9 1089l-0.5 1.1M1008.2 1141.2l-0.1 0.5M1049.1 1124.1l0.4 0.9M1163.6 1167.9l1.7 1.2M1231.6 1154.1l-0.4 0.7M1254.5 1126l-0.9 1.5M1203 1167.9l1 1.3M1209.6 1162.6l1.5 2.2M1166.3 1177.4l-0.2 0.6M1196.5 1136.3l0.2 3.4M1198.3 1176.2l0.8 1M920.9 592.6l-0.3 1.1M890.7 615.9l-0.6 0.4M922.5 593.9l1.3 0.3M874.7 588.1l0.9 0.6M891.1 649.3l1.3 0.2M871.3 609.2l-0.3 0.8M922.5 588.3l-1.4 0.6M862.4 582l0.8 0.9"/>
<path stroke="#B73779" d="M528 1067.4h0M639 957h0M622.4 972.6h0M600 814.5h0M602.5 819.5h0M791.3 707.3h0M800.7 721.3h0M849.3 683.3h0M1029.3 448h0M976.2 707h0M815 907.5h0M810 908h0M1393.8 910.5h0M1718.8 902.5h0M1410 625.5h0M906.2 307h0M433.4 808h0M373.4 829.2h0M470.9 825.9h0M443.9 803.8h0M450.2 976.6h0M394.7 828.3h0M455.7 967.5h0M450.8 820.2h0M411.4 938.8h0M434.8 955.1h0M413.9 829.3h0M508.6 872.2h0M523.3 793.5h0M432.1 881.2h0M422.7 795h0M421.2 954.7h0M446.8 789.1h0M402 863.4h0M1110.6 427.2h0M1075.7 491.8h0M1037.4 494.7h0M1198.8 455.6h0M1165.5 550h0M1179.2 542.5h0M1127.2 429.8h0M1137.4 426.4h0M1098.4 434.3h0M1205.2 486h0M1152.3 435.6h0M1104.8 444h0M1124.5 510.5h0M1194.8 479.3h0M1096.1 498.9h0M1218.6 441.3h0M1053.1 558.8h0M1063.6 552.1h0M1086.8 545.7h0M1041.9 538.1h0M1063.5 569.7h0M1029.6 558.1h0M921.5 612.1h0M939.8 562.5h0M885.4 652.8h0M927.5 575.4h0M905.4 538.2h0M869.8 617.6h0M833.5 583.8h0M917.8 655.8h0M917.9 614.4h0M843.8 568.2h0M939.1 543.4h0M898.3 654.7h0M932.3 519.3h0M1001.9 522.4h0M1017.2 517.3h0M1002.5 513h0M988.7 514.4h0M955.7 521.5h0M1107.9 605.6h0M1112.6 602.2h0M1098.4 582.6h0M1080.2 633.9h0M1102 591.2h0M1081.2 603.8h0M1100.2 603.4h0M1104.1 596.4h0M1005.5 589.6h0M1140.2 788.7h0M1108.7 813.8h0M1191.4 740.9h0M1049.7 766h0M1205.2 714.3h0M1077.6 773h0M1135 791.6h0M1151 775.3h0M1184.7 761.5h0M1088.6 803.2h0M1089.9 694.8h0M1092.9 697.8h0M1132.2 739.8h0M1028.8 671.8h0M1021.1 615.9h0M1106.5 628.9h0M1072.2 631.5h0M1080.4 1211.2h0M1167.5 1183.3h0M1221.3 1002.4h0M1143.4 1150.3h0M1173.9 1138.6h0M1172.1 1054.8h0M1274.5 1047.9h0M1142.1 1126.6h0M1119.2 1167.4h0M1134.3 1209.8h0M1097.2 998.4h0M1083.1 1015.6h0M1239.3 1050.6h0M1064.4 1099.4h0M1232.7 1059.3h0M1115.2 1194.8h0M1163.8 1090.5h0M1218.5 1081.3h0M1230.9 1086.9h0M1009.7 1049.7h0M1236.6 1065.4h0M1084.9 1083.2h0M1092.5 1024.3h0M1062.8 1091h0M1177.8 1167.4h0M1247 1074.7h0M1228.1 1032.8h0M1229 1072.1h0M1243.5 1090h0M1225.4 1048h0M1052.1 1099.7h0M1268.5 1102.9h0M1304.8 1064.1h0M1049.1 1032.2h0M1226.7 1027.4h0M1058.1 1019.8h0M1204.3 1101.8h0M1195.1 1174.6h0M1131.3 1218h0M1221.1 1061.9h0M1260.9 1123.2h0M1084.1 1165.9h0M1102.6 1212.3h0M1042.7 1043.1h0M1138.2 1075.5h0M1117.5 1218.8h0M1106.3 983.8h0M1036.9 1103.1h0M1153.7 1205.1h0M1223.7 1089h0M1222.6 1040.8h0M1184.9 1150.5h0M1094.1 1028.3h0M1050.2 1199.5h0M1210.8 1165.9h0M1188 1075.1h0M1128.1 1130.1h0M1155.8 1099.3h0M1034.8 1038.4h0M1101.4 996.7h0M1177 1117.6h0M1241.3 1152.9h0M1095 1047.2h0M1165.7 1187.8h0M1044.2 1086.2h0M986.7 1145h0M1111.2 992.6h0M1000.3 1069.5h0M1502.6 989.7h0M1482.3 927.1h0M1525.3 900.9h0M1525.4 930.1h0M1518.4 994.1h0M1499 1009.5h0M1508.9 953.3h0M1524.3 877.4h0M1539.1 958.5h0M1487.1 743.3h0M1551.2 735.8h0M1484 773.4h0M1526.6 716.1h0M1549.6 775.9h0M1502.8 747.1h0M1555.4 772.5h0M1523 700.7h0M1548.5 758.2h0M1584.7 709.7h0M1324 815.6h0M1322.8 809.5h0M1327.6 794.9h0M1350.2 792.5h0"/>
<path stroke="#BA3878" d="M865.1 691.3h0M970 718.8h0M973.8 734.5h0M825 882.5h0M794.4 879h0M800 900h0M835 916h0M798 902h0M1026.2 640h0M1036.2 643.8h0M1027.5 657h0M1708.8 897.5h0M1362 613.8h0M1121.2 295h0M882.5 308.8h0M658.8 441.2h0M660.5 442.5h0M707.5 555.5h0M1432.5 359.5h0M1450.8 364.2h0M1476.8 411.8h0M1493 440.8h0M496.1 761.8h0M423.4 932.8h0M506.4 836.7h0M437.1 968.6h0M470.6 1020.8h0M473 783.8h0M365.8 821.1h0M469.9 809.3h0M466.1 920.4h0M447.6 958.4h0M518.1 772.1h0M366 880.9h0M1154.8 486.7h0M1056.2 465h0M1169.5 489.1h0M1234.2 483.9h0M1189.8 462.1h0M1169.4 468h0M1195.5 520.8h0M1097.5 443h0M1132.4 478.7h0M1078.4 503.8h0M1200.5 422.7h0M1198.6 524.5h0M1114.6 504.9h0M1166.7 445.7h0M1060.2 480.6h0M1214 472.4h0M1190.2 502.5h0M1019.7 492.5h0M1136.9 498.4h0M1151.1 427.9h0M1112 566.2h0M1056.3 542.9h0M1091.2 548.6h0M1132.2 537.1h0M1075.4 560h0M1092.8 538.1h0M1097.3 563.3h0M1084.3 552.9h0M847.3 546.5h0M820 570.4h0M882.9 608.2h0M825.1 588.6h0M871.7 634.7h0M832.5 555.6h0M930.1 542.5h0M921.9 634h0M859.1 629.3h0M923.6 645.7h0M916.2 620.6h0M857 545.1h0M828 583.3h0M834 605.2h0M863 572.2h0M855.9 596.6h0M870 578.1h0M906.6 652.9h0M966.3 516.8h0M1013.1 509.2h0M998.1 525.7h0M956.6 529.2h0M945.2 512.5h0M919.2 529h0M1061.1 623.8h0M1089.9 621.2h0M1098.8 611.6h0M1077.3 588.6h0M1107 579.4h0M1063.7 617.3h0M1118.3 612.9h0M1185.6 727.3h0M1239.9 669.7h0M1043.3 808h0M1215.4 717.6h0M1054.4 794h0M1014.3 800.7h0M1200.1 746.9h0M1028.8 816.1h0M1039.3 827.9h0M1090.3 781.2h0M1122.2 796.4h0M1213.2 723.9h0M1127.9 802.4h0M1132.3 796.6h0M1013.6 822.8h0M1052.7 700.9h0M1177.9 713.4h0M993.4 642.8h0M1030.6 688.7h0M1031.4 675.4h0M1058.7 643h0M1056.9 607.4h0M1119.6 635.3h0M1091.8 607.8h0M1072.1 618.5h0M1073 641.8h0M1320.1 1091.8h0M1093.8 1187.4h0M1180.8 1096.3h0M1010.3 1160.7h0M1144.1 1160.6h0M1256.8 1108.8h0M1263.1 1047.1h0M1246 1100.7h0M1012.9 1150.2h0M1053.6 1080.3h0M1212 1108.5h0M1171.4 1205.3h0M1110.8 1162.9h0M1167.6 1048.1h0M1055.6 1194.4h0M1028.2 1064.1h0M998 1087.3h0M1231.1 1008.7h0M1217.7 1043.3h0M1291 1097.3h0M1197.9 1013.1h0M1113.9 981.4h0M1002.2 1161.3h0M1242.4 1007.6h0M1060.5 1190.5h0M1155.5 1228.4h0M1217.4 1111.6h0M1160.3 1139.1h0M1097.4 1167h0M1049.2 1053.5h0M1074.6 1168.4h0M1052.2 1127.4h0M1275.8 1115.2h0M1207 1054.9h0M1310.1 1109.1h0M1126.3 1019.7h0M1144.9 1139.5h0M1010.2 1099.3h0M1026.3 1078.5h0M1141.6 1188.2h0M1234.8 1050.3h0M995.9 1142h0M1259.7 1050.7h0M1196 1018.7h0M1067 1176.2h0M1247.7 1136.5h0M1123 1012.9h0M1085.2 1075.9h0M1057.5 1075.6h0M1183.1 1132.7h0M1183.3 1060.3h0M1266.2 1035.1h0M1149.5 1026.7h0M1119.5 1199.5h0M1114 1151.4h0M1217 1159.6h0M1172.3 1126h0M1039.4 1204h0M1188.8 1016.7h0M1043.8 1129.6h0M1138.2 1197.9h0M1009.9 1083.8h0M1524.8 913.1h0M1536 875.3h0M1534.1 980.6h0M1527.2 966.3h0M1493.7 908h0M1508 927.5h0M1495.6 929.2h0M1537.9 775h0M1593.9 745.2h0M1523.3 757.2h0M1566.6 696.5h0M1586.4 722.8h0M1383.3 800.2h0M1321.2 785.2h0M1321.9 824.4h0M1347.3 825.4h0M1301.5 797.8h0"/>
<path stroke="#B5367A" d="M644 957h0M985 726.2h0M840 898.8h0M980.5 926.2h0M1031.2 642h0M1150.7 635.3h0M1150 218.8h0M895 305h0M901.2 311.2h0M890 317.5h0M645.8 437.5h0M727.5 535h0M1480.5 405.5h0M563.5 719.4h0M447.5 993h0M451.7 869.6h0M505.2 808.1h0M409.2 851.8h0M534.4 827.6h0M413.6 820.3h0M446.7 849.9h0M460.3 902.6h0M464.8 996h0M559.3 744.3h0M417.2 861.3h0M397.1 793.3h0M443.5 914.6h0M331.3 837.3h0M438 951.6h0M556.9 767.6h0M1092.7 458.8h0M1183.4 491.2h0M1057.7 508.3h0M1099.3 429.3h0M1141.2 469.5h0M1053.4 507.7h0M1050 486.6h0M1094 449.4h0M1082.6 484.3h0M1159.9 409.7h0M1091.5 514.6h0M1033.5 515.3h0M1077.7 452.6h0M1120.6 441.3h0M1178.6 523.1h0M1152.5 466.3h0M1089 460.7h0M1159.3 441.5h0M1114.7 491h0M1175.6 484.9h0M1112.5 461h0M1091.9 497.4h0M1099.8 516.4h0M1162.1 520.9h0M1080.9 568.4h0M1135.9 548.4h0M1096.7 554.9h0M1077.5 573.3h0M1132 553.3h0M868.3 571.1h0M827.7 567.5h0M885.6 612.2h0M852.2 594.7h0M921.8 557.3h0M887.2 597.7h0M892.5 608.5h0M899 607.1h0M924.8 551.3h0M884 537.4h0M945.3 559.8h0M897.2 545.6h0M847.2 556.9h0M923.7 563.1h0M930.5 621.6h0M895.1 616.1h0M897.4 540.2h0M866.3 590.6h0M835.4 579.9h0M827 572.1h0M983.8 521.4h0M969 506.5h0M978.4 536h0M1099.6 598h0M1111.3 615.7h0M1094.5 621.8h0M1044.5 580h0M999.8 580h0M1081.5 761.7h0M1160.9 768.3h0M1049.5 774.9h0M1169.6 766.6h0M1116 792.5h0M1055.6 820.6h0M1054.8 710.2h0M1057.2 701.1h0M1109.3 730.4h0M1087.6 640.2h0M1119.7 661.7h0M1070 614.6h0M1049.3 629.4h0M1073.9 636.5h0M1219.3 1163.9h0M1045.2 1159.6h0M1037.4 1133.5h0M1071.5 1077.7h0M1079.1 1196.9h0M1173.5 1223.7h0M1177.2 1079.8h0M1221.2 1109.1h0M1071.5 1208.1h0M1012.7 1144.6h0M1033 1194.6h0M1063.6 1117.4h0M1141.7 1010.2h0M1302.1 1112h0M1270.4 1043.3h0M1165.4 1022.6h0M1033.6 1129.8h0M1054.8 1162.7h0M1203.4 1024.5h0M1089.4 1031.6h0M1131.9 1147.1h0M1195.9 1072.7h0M1006.9 1112.3h0M1282.6 1047.7h0M1112.6 1052.8h0M1012 1090.4h0M1107.9 1167.2h0M1229.1 1039.9h0M1070.1 1180.1h0M1127.2 1036.7h0M1196.7 1042.7h0M1006.4 1148.4h0M1141.3 1163.9h0M979.8 1097.2h0M1106.9 1200.5h0M1227.5 1151.6h0M1170.2 1150.6h0M1029.8 1134.7h0M1144.2 1176.7h0M1040.8 1196.1h0M1093.4 1172.6h0M1071.3 1069.1h0M977.2 1143.7h0M993.1 1107.5h0M1175.5 1185.3h0M1177.6 1132.8h0M1257.2 1139.6h0M1112.5 1036.2h0M973.2 1089.1h0M1073.5 1007.7h0M1139.3 985.5h0M1269.9 1125.8h0M1189.2 1147.7h0M1252.9 1135.2h0M1171.5 1093.5h0M1177.4 1044.9h0M1152.6 1176.3h0M1143.5 1194.4h0M1237.7 1006.8h0M1056.3 1208.2h0M1120.5 1185h0M1077.8 1129.4h0M1160.3 1156.7h0M1170.6 1086.8h0M1493.8 915.2h0M1504.3 977.9h0M1533.9 946.3h0M1496.6 886.3h0M1525.2 1003.1h0M1517.3 909.1h0M1500.9 953.9h0M1500.8 962.4h0M1507.8 999.8h0M1603.1 740.7h0M1509.7 719.1h0M1312.5 791.5h0M1325.5 791.1h0M1332.8 782.3h0M1305.9 802.9h0"/>
<path stroke="#BE3A77" d="M585.5 824.5h0M818.7 706.7h0M1017.3 447.1h0M980 722.5h0M823.8 905h0M840 917.5h0M796 897h0M975 961.2h0M1021.2 638h0M1128.7 652h0M1711.2 901.2h0M1716.2 906.2h0M1406.2 619.2h0M1072.5 266.2h0M1080 272.5h0M1088.8 282.5h0M1146.2 211.2h0M1131.2 220h0M1177.5 216.2h0M930.8 218.8h0M648 439.5h0M782.5 498.2h0M738.8 523.2h0M1445.8 358.8h0M1449.5 369.5h0M1464.2 421.8h0M1468 425.8h0M544.2 812.6h0M522.2 804.6h0M411 959.1h0M404.5 794.1h0M458 820.7h0M360.2 836.8h0M428.4 916h0M525.7 751.7h0M464.7 844.7h0M401.2 893.8h0M428.5 805.7h0M426.4 951.3h0M376 848.6h0M449.4 800.4h0M586.6 801.2h0M465.2 855.6h0M327.1 835.6h0M392.2 814.4h0M1192.6 428.3h0M1203.1 447.7h0M1099.3 505.9h0M1124 474.2h0M1158.3 434.9h0M1171 536.8h0M1143.6 529.6h0M1019.8 523.3h0M1046.3 474.8h0M1048.2 503.1h0M1161.8 512.5h0M1178.3 455.7h0M1029 501.6h0M1082.2 435.4h0M1209 475.6h0M1115.5 445.1h0M1195.6 466.9h0M1090.2 482.6h0M1030.3 534.4h0M1118.4 557.9h0M1069.4 549.9h0M1027.4 541.9h0M1091.1 562.3h0M1113.5 543.1h0M1080.5 546.4h0M873 539.3h0M920.9 584.8h0M896.8 532.5h0M925 637.7h0M848 624.2h0M948.3 554.2h0M944.1 546.3h0M868.4 604.4h0M859.3 559.6h0M843 615.4h0M821.1 576.3h0M835 588h0M853.8 559.5h0M996.6 521.1h0M946.9 531.8h0M998.4 499.7h0M989.2 502.7h0M1072.7 594.3h0M1102.2 617.3h0M1003.9 575h0M1039.4 576.2h0M1172.8 734.9h0M1180.2 740h0M1070.5 777.2h0M1157 754.4h0M1040.7 765.3h0M1098 783.9h0M1001.6 788.9h0M1048.8 789.5h0M1005 792.2h0M1094.2 807.7h0M1164.3 750.9h0M1124.2 712.1h0M1177.9 693.7h0M1182.5 692.4h0M1105.3 746.2h0M985.9 646.4h0M1032.3 666.4h0M1074.3 624.8h0M1310.2 1088.1h0M1191.5 1026.7h0M1189.3 1056.9h0M1205 1095.3h0M1050 1137.3h0M1105.1 1132.5h0M1142.8 1083.4h0M1045.6 1061.9h0M1042.2 1164.9h0M1073.5 1202.1h0M1087.7 1168.5h0M1243.2 1062.5h0M1233.8 1119.2h0M1133.3 1050.2h0M1111.2 1225h0M1003.5 1154.4h0M1260 1096.8h0M1295 1053.3h0M1217.3 1052.6h0M1140.1 979.6h0M1289.1 1065.2h0M1073.2 1134.3h0M1069.6 1083.7h0M1114.7 1009.6h0M1150.6 1008.4h0M1307.1 1097.8h0M1021.8 1045.4h0M1247.8 1008.4h0M1027.2 1028.4h0M1179.9 1012.6h0M1021.4 1058.4h0M1038.3 1052.8h0M1100.1 1074.7h0M1211 1076.5h0M1096.4 1159h0M1315.5 1091h0M1241.7 1011.8h0M1078.2 1117.8h0M1095.8 1136.6h0M1166.8 1005h0M1291.7 1087.5h0M1026.4 1051.6h0M1214 1038.1h0M1134.4 1135.5h0M1122.8 1133.4h0M1060.4 1015h0M1252.5 1003.7h0M1035.7 1069.4h0M1119.8 1203.9h0M1175.9 1145.2h0M1264.9 1016.3h0M1291.8 1120.8h0M1123.4 1216.1h0M1175 1013.2h0M1034.6 1061.2h0M1054.9 1120.5h0M1067.2 1040.2h0M1233 1156.8h0M1057.4 1091.6h0M1542.7 972.7h0M1529.6 934.9h0M1507.5 725.9h0M1526.5 753.3h0M1519.5 724.6h0M1511.6 753.8h0M1573.9 748.8h0M1576.8 731.6h0M1378 802.1h0"/>
<path stroke="#B2357B" d="M680 854h0M676.5 859h0M737.5 825h0M702 782h0M963.8 746.2h0M830 885h0M838.8 888.8h0M840 903.8h0M808.8 908.8h0M807 896h0M972.5 956.2h0M1152 640h0M1126.7 657.3h0M1179.2 274.5h0M886.2 302.5h0M888.8 323.8h0M608.8 457.5h0M758.8 487.5h0M511.8 654.2h0M1447 372h0M416.3 809h0M499.8 771.9h0M387 823.4h0M376.8 809.8h0M422.4 945.1h0M395.6 879.3h0M477.7 801.2h0M427.1 789.3h0M494.6 863.3h0M500.8 894.9h0M450.4 1004.2h0M513.5 862.5h0M527.1 807.8h0M442.6 811.5h0M466 889.3h0M471.6 769h0M335.5 812.2h0M506.5 798h0M385 831.5h0M429.1 871.4h0M437.6 992.4h0M503.1 914.2h0M460.8 791.3h0M1192.6 509.7h0M1208.8 430.4h0M1212.3 504.1h0M1078.4 509h0M1149.5 461.4h0M1182.3 535.2h0M1019.4 504.8h0M1180.7 443.1h0M1187.4 481.8h0M1189.4 528.1h0M1080.1 468.6h0M1144.4 447.5h0M1122.3 487.5h0M1088.7 475.8h0M1019.3 487.6h0M1145.5 441.3h0M1067.6 464.8h0M1220.9 520.3h0M1225.5 523.7h0M1226.5 453h0M1214.5 511.3h0M1132 453.1h0M1115.2 513.3h0M1085.3 500h0M1208.5 461.2h0M1106 489.2h0M1076.8 564.3h0M1115.3 535.7h0M1023.4 532.7h0M1062.4 540.9h0M1038.4 562.8h0M1046.7 547.7h0M1031.9 543.1h0M928.7 635.7h0M927.4 580.6h0M822 564.3h0M915.1 646.7h0M922.2 606.3h0M851 566.7h0M877.7 541.3h0M885.2 644.9h0M881.1 616.1h0M907.8 666.2h0M923.3 570.5h0M912.7 609.3h0M834.3 542.2h0M857.4 532.8h0M953.8 516.4h0M952.5 512.4h0M923.7 530.1h0M967.5 533.4h0M922.1 525h0M1119.4 587.8h0M1087.3 585.1h0M1086 605.9h0M1082.7 594.5h0M1080.9 616.6h0M1105.6 614h0M1073.6 606.4h0M1068.2 605.9h0M1022.6 561.9h0M1038.7 778.6h0M1141.2 756.9h0M1073.4 804.1h0M1100.6 796h0M1080.3 821.5h0M1062.4 800.5h0M1209.6 704.2h0M1092.7 796.3h0M1113.4 806.1h0M1138.4 796.1h0M1086.3 811.9h0M1121.2 776.1h0M1020.6 822h0M1145.5 723.2h0M1050.3 708.1h0M1062.3 692.5h0M1088.1 681.9h0M1057.4 688h0M1069.8 705.1h0M1098.9 691.8h0M1206.8 687.1h0M1174.4 683.2h0M1095.4 653.6h0M1010 623.4h0M1069.2 636.1h0M1264.2 1028.7h0M1063.2 1126.8h0M1106.9 1182.2h0M1180.5 1036.3h0M1156.1 1201.3h0M1233.8 1074.2h0M1128.3 1211.7h0M1170.8 1001.1h0M1024.3 1167.8h0M1089.1 1041.8h0M1162.5 994.5h0M1166.3 1216.3h0M1027.7 1056.4h0M1134.1 1195.9h0M1132.5 971.8h0M1021.4 1115.9h0M1048.7 1179.1h0M1120.6 994.7h0M1079.5 1020.5h0M1115.2 1015.2h0M1118.4 1161.6h0M1132.7 1025.2h0M988.5 1137.1h0M1050.7 1157.7h0M1298.8 1045.2h0M1295.9 1072.2h0M1237.4 1125.5h0M1007.3 1055.6h0M1093 985.5h0M1101.3 1157.4h0M1090.8 1158h0M1018 1100.5h0M1242.2 1123.7h0M1068.4 1122.2h0M984.2 1162.6h0M1225.3 1117.1h0M1251.4 1109.4h0M1139.3 1178h0M1142.3 973.2h0M1184.2 1191.1h0M1013.2 1065.5h0M1070.4 1019.4h0M1187 1137.1h0M1184.8 1008.3h0M1174 1200.2h0M1094.6 1142.7h0M1173.4 1130.5h0M1303.5 1055.2h0M1216.5 1167.8h0M1058 1144.6h0M1280.3 1082.2h0M975.5 1133.9h0M1024.4 1159.7h0M1040 1127.2h0M1196.3 1181h0M1131.4 1062.5h0M1062.2 1178.9h0M1105.5 998.1h0M1267.7 1025.7h0M1224.5 1065.3h0M1137.5 1218.4h0M1122.8 1226.6h0M1079.8 1136.9h0M1208.6 1125.6h0M1022.4 1135.3h0M1058.6 1024.7h0M1194.3 1083.4h0M1483.9 897.7h0M1501.2 927.6h0M1483.6 934.3h0M1475.7 924.1h0M1496.2 998.7h0M1534.6 971.5h0M1487.4 976.4h0M1577 703.4h0M1509.4 730.6h0M1464.7 771.9h0M1496.7 760.3h0M1531.1 730h0M1453.3 711.6h0M1316.7 780.1h0M1336.7 777.5h0M1385.6 803.8h0"/>
<path stroke="#FC9A69" d="M585 746h0M474 876.4h0M515.6 928.6h0M357 958h0M351 963.6h0M826 711.3h0M829.3 708h0M1022.7 485.3h0M1036 504.7h0M1073.1 510h0M1129.3 483.3h0M1154.7 519.1h0M1202.4 502.4h0M1205.3 516.3h0M1232.7 494.9h0M982.7 559.7h0M1003.3 564.4h0M1019.3 577.1h0M961.3 516h0M982.7 560h0M1003.7 564.4h0M1019.1 577.7h0M1062 631.1h0M1160 759.5h0M1047 832.5h0M1069.5 709.5h0M1052 714.5h0M903.2 855h0M806.2 890h0M805 898.8h0M958.8 974.5h0M1062 630.5h0M994.3 1142.3h0M1008 1061h0M1052 1114h0M1126.5 1063.2h0M1221.7 1153.4h0M1135.4 1022h0M1142.1 997.1h0M1136.9 1201h0M1043 1117.2h0M1248.8 1107.7h0M1279.1 1043.9h0M1098.6 1070.2h0M1152.9 1053.7h0M1068.5 1074h0M1096.2 1051.6h0M1155.4 1012.6h0M905 1105h0M913.2 1113.2h0M897 1127h0M960 1102h0M1008.8 1069.5h0M1035.5 1052.5h0M1240 938h0M1326.2 958.2h0M1337.5 955h0M1347 958.2h0M1328 970.5h0M1320 980h0M1192 980h0M1256.2 1014.2h0M1444.5 906.2h0M1455.5 902h0M1467 939.5h0M1482 767.5h0M1327.5 773h0M1347 817.5h0M600.8 461.2h0M1435.5 351.5h0"/>
</g>
<g stroke="#000" stroke-width="4.5" fill="none">
<path d="M222.5 142.5V1302.5"/>
<path d="M220.25 1302.5H1829"/>
<path d="M208 451.6H222.5M208 814.4H222.5M208 1177.4H222.5"/>
<path d="M660 1302.5V1317M1115.8 1302.5V1317M1571.5 1302.5V1317"/>
</g>
<text x="1022" y="101" font-size="70" font-weight="bold" text-anchor="middle">TTI1</text>
<g font-size="50" text-anchor="end">
<text x="194.5" y="470">10</text>
<text x="194.5" y="833">0</text>
<text x="194.5" y="1196">-10</text>
</g>
<g font-size="50" text-anchor="middle">
<text x="660" y="1366">0</text>
<text x="1116" y="1366">10</text>
<text x="1571.5" y="1366">20</text>
</g>
<text x="1023.5" y="1434.7" font-size="59" text-anchor="middle">UMAP_1</text>
<text transform="translate(93.6 722.5) rotate(-90)" font-size="59" text-anchor="middle">UMAP_2</text>
<rect x="1885" y="578" width="64" height="320" fill="url(#mg)"/>
<path d="M1885 667.8h13M1936 667.8h13M1885 782.4h13M1936 782.4h13M1885 897.5h13M1936 897.5h13" stroke="#fff" stroke-width="2"/>
<g font-size="50">
<text x="1979" y="686.5">1.0</text>
<text x="1979" y="801">0.5</text>
<text x="1979" y="916">0.0</text>
</g>
</svg>
</body></html>
